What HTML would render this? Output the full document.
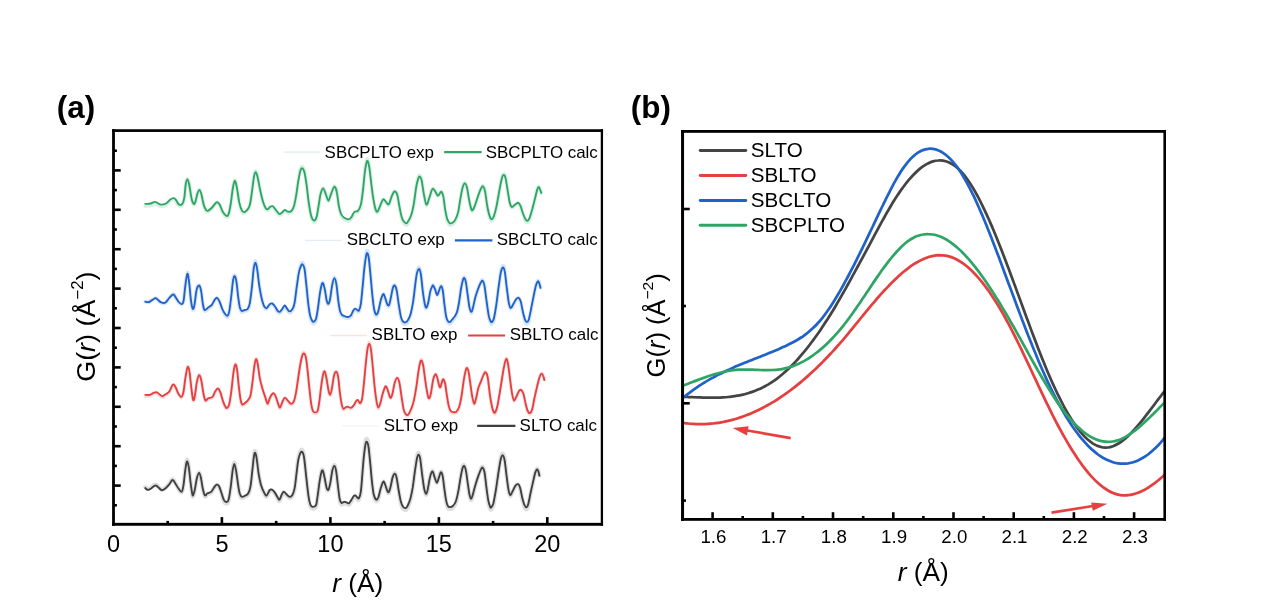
<!DOCTYPE html>
<html lang="en"><head><meta charset="utf-8"><title>PDF G(r) figure</title>
<style>
html,body{margin:0;padding:0;background:#fff;}
body{width:1269px;height:604px;overflow:hidden;}
svg{display:block;will-change:transform;}
text{font-family:"Liberation Sans",Arial,Helvetica,sans-serif;fill:#000;}
.calc{fill:none;stroke-linejoin:round;stroke-linecap:round;}
.exp{fill:none;stroke-linejoin:round;stroke-linecap:round;}
.tk{stroke:#000;}
</style></head><body>
<svg width="1269" height="604" viewBox="0 0 1269 604">
<rect width="1269" height="604" fill="#fff"/>
<g id="panel-a">
<text transform="translate(56.80,117.60)" font-size="31.4" font-weight="bold">(a)</text>
<path class="exp" d="M145.3 205.6C146.2 205.5 149.0 205.5 150.6 205.1C152.2 204.6 153.5 203.2 154.8 203.1C156.1 203.1 157.2 204.4 158.3 204.8C159.4 205.3 159.8 205.9 161.1 205.9C162.4 205.9 164.5 205.5 166.0 204.6C167.5 203.6 169.0 201.2 170.3 200.2C171.6 199.2 172.9 198.6 173.8 198.6C174.7 198.7 175.1 199.4 175.9 200.5C176.7 201.5 177.6 204.2 178.7 205.0C179.8 205.7 181.3 206.0 182.2 204.9C183.1 203.7 183.7 201.5 184.3 198.0C184.9 194.5 185.2 187.1 185.7 183.9C186.2 180.6 186.8 178.3 187.4 178.3C188.0 178.3 188.5 180.5 189.2 183.8C189.9 187.0 190.7 194.4 191.4 197.8C192.1 201.2 192.8 203.3 193.5 204.0C194.2 204.7 194.7 203.9 195.3 202.1C196.0 200.3 196.8 195.4 197.4 193.2C198.1 191.1 198.6 189.2 199.2 189.2C199.8 189.2 200.4 190.4 201.2 193.2C202.0 196.0 203.0 202.9 204.0 206.0C205.0 209.0 206.0 211.1 207.3 211.5C208.6 211.8 210.5 209.5 211.8 208.2C213.1 206.9 214.4 204.7 215.3 203.7C216.2 202.7 216.4 202.1 217.1 202.2C217.8 202.4 218.5 202.7 219.5 204.5C220.5 206.2 221.7 210.6 222.9 212.6C224.1 214.7 225.6 216.4 226.5 216.8C227.4 217.1 227.9 217.0 228.6 214.9C229.3 212.7 230.1 208.3 230.8 203.7C231.5 199.1 232.2 191.3 232.9 187.3C233.6 183.3 234.1 180.1 234.7 179.9C235.3 179.6 235.9 182.1 236.7 185.8C237.4 189.5 238.4 198.1 239.2 202.2C240.0 206.3 240.8 208.6 241.6 210.4C242.4 212.2 242.9 212.9 243.8 212.9C244.7 213.0 245.9 212.1 246.9 210.8C247.9 209.5 248.9 208.6 249.8 205.2C250.7 201.8 251.4 195.2 252.1 190.3C252.8 185.3 253.4 178.6 254.0 175.3C254.6 172.0 255.1 170.5 255.7 170.5C256.3 170.5 256.7 172.0 257.5 175.3C258.3 178.6 259.4 185.8 260.3 190.3C261.2 194.8 262.2 199.1 263.1 202.2C264.0 205.4 265.1 207.7 265.9 208.9C266.7 210.2 267.3 209.9 268.0 209.7C268.7 209.4 269.2 207.9 270.0 207.4C270.8 206.9 271.8 206.1 272.8 206.7C273.9 207.3 275.2 209.8 276.3 211.1C277.4 212.5 278.5 214.6 279.6 214.9C280.7 215.1 281.8 213.4 282.7 212.6C283.6 211.9 284.0 210.5 284.8 210.4C285.6 210.4 286.6 212.1 287.6 212.3C288.7 212.6 290.1 212.8 291.1 211.9C292.2 211.0 293.1 209.3 293.9 206.7C294.7 204.1 295.3 200.4 296.0 196.2C296.7 192.0 297.4 185.8 298.1 181.4C298.8 176.9 299.6 171.9 300.3 169.4C301.0 166.9 301.7 166.2 302.4 166.4C303.1 166.7 303.8 167.9 304.5 170.9C305.2 173.9 305.9 179.1 306.6 184.3C307.3 189.6 307.9 196.9 308.7 202.2C309.4 207.6 310.2 213.1 311.1 216.3C312.0 219.6 313.0 221.3 313.9 221.6C314.8 222.0 315.6 221.1 316.4 218.6C317.2 216.1 317.8 210.9 318.5 206.7C319.2 202.5 319.9 196.4 320.7 193.2C321.5 190.1 322.4 187.6 323.2 187.6C324.0 187.6 324.7 191.0 325.6 193.2C326.5 195.4 327.5 200.8 328.4 200.8C329.3 200.8 330.2 195.7 331.2 193.2C332.2 190.7 333.5 186.1 334.4 185.8C335.3 185.6 336.1 188.3 336.8 191.7C337.6 195.2 338.2 202.8 338.9 206.7C339.6 210.5 340.3 212.9 341.1 214.9C341.9 216.8 342.6 217.6 343.9 218.6C345.2 219.5 347.5 220.7 348.8 220.6C350.1 220.5 350.7 219.1 351.6 217.8C352.5 216.5 353.3 213.7 354.4 212.6C355.4 211.6 356.8 212.7 357.9 211.5C359.0 210.2 360.0 208.7 360.8 205.2C361.6 201.7 362.2 196.2 362.9 190.3C363.6 184.3 364.3 174.6 365.0 169.4C365.7 164.1 366.4 159.4 367.1 158.7C367.8 157.9 368.5 160.9 369.2 164.9C369.9 169.0 370.6 177.1 371.3 182.8C372.0 188.5 372.7 194.7 373.4 199.2C374.1 203.6 374.8 207.5 375.5 209.7C376.2 211.9 376.8 213.1 377.6 212.3C378.4 211.6 379.6 207.4 380.5 205.2C381.4 203.0 382.4 199.7 383.3 199.2C384.2 198.7 385.2 201.4 386.1 202.2C387.0 203.1 388.0 205.5 388.9 204.5C389.8 203.5 390.8 198.4 391.7 196.2C392.6 194.0 393.6 191.3 394.5 191.0C395.4 190.8 396.5 192.1 397.3 194.7C398.1 197.3 398.6 202.5 399.4 206.7C400.2 210.9 401.2 217.1 402.3 220.0C403.4 223.0 404.9 224.1 405.8 224.6C406.7 225.1 406.9 224.6 407.8 223.1C408.7 221.6 410.2 219.1 411.3 215.6C412.4 212.1 413.3 207.2 414.1 202.2C414.9 197.3 415.6 190.1 416.3 185.8C417.0 181.6 417.8 178.6 418.4 176.8C419.0 175.1 419.3 174.9 419.8 175.3C420.3 175.7 420.9 175.9 421.6 179.1C422.3 182.4 423.2 190.4 424.0 194.7C424.8 199.0 425.6 204.1 426.4 204.9C427.2 205.6 428.0 201.6 428.9 199.2C429.8 196.7 430.8 192.1 431.5 190.3C432.2 188.4 432.5 187.9 433.1 188.0C433.7 188.2 434.5 189.8 435.3 191.0C436.1 192.2 437.0 195.2 437.8 195.5C438.6 195.7 439.6 193.2 440.2 192.5C440.8 191.8 441.1 190.8 441.6 191.4C442.1 192.0 442.7 193.2 443.3 196.2C443.9 199.2 444.5 205.7 445.1 209.7C445.8 213.6 446.4 217.6 447.2 220.0C448.0 222.5 448.8 224.0 449.7 224.6C450.6 225.2 451.8 224.6 452.8 223.9C453.8 223.1 454.8 221.9 455.7 220.0C456.6 218.2 457.4 216.1 458.2 212.6C459.0 209.1 459.6 203.5 460.3 199.2C461.1 194.8 461.9 189.4 462.7 186.6C463.4 183.7 464.1 182.3 464.8 182.3C465.5 182.3 466.2 183.7 466.9 186.6C467.6 189.4 468.3 195.4 469.0 199.2C469.7 202.9 470.5 207.0 471.1 208.9C471.7 210.9 471.9 211.2 472.5 210.8C473.1 210.5 473.8 208.9 474.6 206.7C475.4 204.5 476.6 200.5 477.5 197.7C478.4 194.8 479.4 191.6 480.3 189.5C481.2 187.5 481.9 185.3 482.7 185.4C483.5 185.5 484.1 186.7 484.9 190.3C485.7 193.8 486.6 202.3 487.3 206.7C488.1 211.0 488.7 214.1 489.4 216.3C490.1 218.6 490.8 220.2 491.5 220.4C492.2 220.5 493.1 219.4 493.9 217.1C494.7 214.8 495.6 211.2 496.5 206.7C497.4 202.2 498.4 195.4 499.3 190.3C500.2 185.2 501.3 178.9 502.1 176.1C502.9 173.3 503.3 173.4 503.9 173.5C504.5 173.6 505.0 174.0 505.6 176.8C506.2 179.6 507.0 185.9 507.7 190.3C508.4 194.6 509.1 200.1 509.8 203.0C510.5 205.8 510.9 207.2 511.9 207.4C512.9 207.7 514.4 205.2 515.5 204.5C516.6 203.7 517.5 202.7 518.3 203.0C519.1 203.2 519.6 204.0 520.4 206.0C521.2 207.9 522.3 212.4 523.2 214.9C524.1 217.3 525.0 219.6 525.7 220.8C526.4 222.0 526.8 222.3 527.4 222.1C528.0 221.8 528.7 221.4 529.5 219.3C530.3 217.2 531.3 213.3 532.3 209.7C533.2 206.1 534.4 201.2 535.2 197.7C536.0 194.2 536.7 190.7 537.3 188.8C537.9 186.9 538.2 186.1 538.7 186.1C539.2 186.1 539.7 187.7 540.1 188.8C540.5 189.8 541.0 191.9 541.2 192.5" stroke="#d6f0e3" stroke-width="3.8" transform="translate(0,0.3)"/>
<path class="calc" d="M145.3 203.9C146.2 203.8 149.0 203.8 150.6 203.5C152.2 203.2 153.5 201.8 154.8 201.8C156.1 201.8 157.2 203.0 158.3 203.5C159.4 204.0 159.8 204.6 161.1 204.6C162.4 204.6 164.5 204.3 166.0 203.5C167.5 202.7 169.0 200.4 170.3 199.5C171.6 198.6 172.9 198.0 173.8 198.1C174.7 198.2 175.1 198.9 175.9 199.9C176.7 200.9 177.6 203.5 178.7 204.2C179.8 204.9 181.3 205.3 182.2 204.2C183.1 203.1 183.7 201.1 184.3 197.8C184.9 194.5 185.2 187.6 185.7 184.5C186.2 181.4 186.8 179.3 187.4 179.3C188.0 179.3 188.5 181.4 189.2 184.5C189.9 187.6 190.7 194.6 191.4 197.8C192.1 201.0 192.8 203.0 193.5 203.7C194.2 204.4 194.7 203.7 195.3 202.0C196.0 200.3 196.8 195.6 197.4 193.6C198.1 191.6 198.6 189.8 199.2 189.8C199.8 189.8 200.4 191.0 201.2 193.6C202.0 196.2 203.0 202.7 204.0 205.6C205.0 208.5 206.0 210.5 207.3 210.8C208.6 211.2 210.5 208.9 211.8 207.7C213.1 206.5 214.4 204.4 215.3 203.5C216.2 202.6 216.4 202.0 217.1 202.1C217.8 202.2 218.5 202.6 219.5 204.2C220.5 205.8 221.7 210.0 222.9 211.9C224.1 213.8 225.6 215.5 226.5 215.8C227.4 216.2 227.9 216.1 228.6 214.0C229.3 211.9 230.1 207.8 230.8 203.5C231.5 199.2 232.2 191.8 232.9 188.0C233.6 184.2 234.1 181.2 234.7 181.0C235.3 180.8 235.9 183.1 236.7 186.6C237.4 190.1 238.4 198.2 239.2 202.1C240.0 206.0 240.8 208.1 241.6 209.8C242.4 211.5 242.9 212.1 243.8 212.2C244.7 212.3 245.9 211.4 246.9 210.2C247.9 209.0 248.9 208.1 249.8 204.9C250.7 201.7 251.4 195.5 252.1 190.8C252.8 186.1 253.4 179.8 254.0 176.7C254.6 173.6 255.1 172.2 255.7 172.2C256.3 172.2 256.7 173.6 257.5 176.7C258.3 179.8 259.4 186.6 260.3 190.8C261.2 195.0 262.2 199.2 263.1 202.1C264.0 205.0 265.1 207.2 265.9 208.4C266.7 209.6 267.3 209.3 268.0 209.1C268.7 208.9 269.2 207.5 270.0 207.0C270.8 206.5 271.8 205.7 272.8 206.3C273.9 206.9 275.2 209.2 276.3 210.5C277.4 211.8 278.5 213.8 279.6 214.0C280.7 214.2 281.8 212.6 282.7 211.9C283.6 211.2 284.0 209.9 284.8 209.8C285.6 209.8 286.6 211.4 287.6 211.6C288.7 211.8 290.1 212.1 291.1 211.2C292.2 210.3 293.1 208.8 293.9 206.3C294.7 203.8 295.3 200.4 296.0 196.4C296.7 192.4 297.4 186.6 298.1 182.4C298.8 178.2 299.6 173.4 300.3 171.1C301.0 168.8 301.7 168.1 302.4 168.3C303.1 168.5 303.8 169.7 304.5 172.5C305.2 175.3 305.9 180.3 306.6 185.2C307.3 190.1 307.9 197.1 308.7 202.1C309.4 207.1 310.2 212.3 311.1 215.4C312.0 218.5 313.0 220.1 313.9 220.4C314.8 220.8 315.6 219.8 316.4 217.5C317.2 215.2 317.8 210.3 318.5 206.3C319.2 202.3 319.9 196.6 320.7 193.6C321.5 190.6 322.4 188.3 323.2 188.3C324.0 188.3 324.7 191.5 325.6 193.6C326.5 195.7 327.5 200.7 328.4 200.7C329.3 200.7 330.2 195.9 331.2 193.6C332.2 191.2 333.5 186.8 334.4 186.6C335.3 186.4 336.1 188.9 336.8 192.2C337.6 195.5 338.2 202.7 338.9 206.3C339.6 209.9 340.3 212.1 341.1 214.0C341.9 215.9 342.6 216.6 343.9 217.5C345.2 218.4 347.5 219.5 348.8 219.4C350.1 219.3 350.7 218.1 351.6 216.8C352.5 215.6 353.3 212.9 354.4 211.9C355.4 210.9 356.8 212.0 357.9 210.8C359.0 209.6 360.0 208.2 360.8 204.9C361.6 201.6 362.2 196.4 362.9 190.8C363.6 185.2 364.3 176.1 365.0 171.1C365.7 166.1 366.4 161.7 367.1 161.0C367.8 160.3 368.5 163.1 369.2 166.9C369.9 170.7 370.6 178.4 371.3 183.8C372.0 189.2 372.7 195.0 373.4 199.2C374.1 203.4 374.8 207.0 375.5 209.1C376.2 211.2 376.8 212.3 377.6 211.6C378.4 210.9 379.6 207.0 380.5 204.9C381.4 202.8 382.4 199.7 383.3 199.2C384.2 198.7 385.2 201.3 386.1 202.1C387.0 202.9 388.0 205.1 388.9 204.2C389.8 203.2 390.8 198.5 391.7 196.4C392.6 194.3 393.6 191.7 394.5 191.5C395.4 191.3 396.5 192.5 397.3 195.0C398.1 197.5 398.6 202.3 399.4 206.3C400.2 210.3 401.2 216.1 402.3 218.9C403.4 221.7 404.9 222.7 405.8 223.2C406.7 223.7 406.9 223.2 407.8 221.8C408.7 220.4 410.2 218.0 411.3 214.7C412.4 211.4 413.3 206.8 414.1 202.1C414.9 197.4 415.6 190.6 416.3 186.6C417.0 182.6 417.8 179.8 418.4 178.1C419.0 176.4 419.3 176.3 419.8 176.7C420.3 177.1 420.9 177.2 421.6 180.3C422.3 183.4 423.2 190.9 424.0 195.0C424.8 199.1 425.6 203.9 426.4 204.6C427.2 205.3 428.0 201.5 428.9 199.2C429.8 196.9 430.8 192.6 431.5 190.8C432.2 189.1 432.5 188.6 433.1 188.7C433.7 188.8 434.5 190.3 435.3 191.5C436.1 192.7 437.0 195.5 437.8 195.7C438.6 195.9 439.6 193.5 440.2 192.9C440.8 192.3 441.1 191.3 441.6 191.9C442.1 192.5 442.7 193.5 443.3 196.4C443.9 199.3 444.5 205.3 445.1 209.1C445.8 212.8 446.4 216.6 447.2 218.9C448.0 221.2 448.8 222.6 449.7 223.2C450.6 223.8 451.8 223.2 452.8 222.5C453.8 221.8 454.8 220.7 455.7 218.9C456.6 217.1 457.4 215.2 458.2 211.9C459.0 208.6 459.6 203.3 460.3 199.2C461.1 195.1 461.9 190.0 462.7 187.3C463.4 184.7 464.1 183.3 464.8 183.3C465.5 183.3 466.2 184.7 466.9 187.3C467.6 190.0 468.3 195.7 469.0 199.2C469.7 202.7 470.5 206.6 471.1 208.4C471.7 210.2 471.9 210.5 472.5 210.2C473.1 209.8 473.8 208.4 474.6 206.3C475.4 204.2 476.6 200.5 477.5 197.8C478.4 195.1 479.4 192.0 480.3 190.1C481.2 188.2 481.9 186.1 482.7 186.2C483.5 186.3 484.1 187.5 484.9 190.8C485.7 194.2 486.6 202.2 487.3 206.3C488.1 210.4 488.7 213.2 489.4 215.4C490.1 217.6 490.8 219.1 491.5 219.2C492.2 219.3 493.1 218.2 493.9 216.1C494.7 213.9 495.6 210.5 496.5 206.3C497.4 202.1 498.4 195.6 499.3 190.8C500.2 186.0 501.3 180.0 502.1 177.4C502.9 174.8 503.3 174.9 503.9 175.0C504.5 175.1 505.0 175.5 505.6 178.1C506.2 180.7 507.0 186.7 507.7 190.8C508.4 194.9 509.1 200.1 509.8 202.8C510.5 205.5 510.9 206.8 511.9 207.0C512.9 207.2 514.4 204.9 515.5 204.2C516.6 203.5 517.5 202.6 518.3 202.8C519.1 203.0 519.6 203.7 520.4 205.6C521.2 207.5 522.3 211.7 523.2 214.0C524.1 216.3 525.0 218.5 525.7 219.6C526.4 220.7 526.8 221.0 527.4 220.8C528.0 220.6 528.7 220.1 529.5 218.2C530.3 216.2 531.3 212.5 532.3 209.1C533.2 205.7 534.4 201.1 535.2 197.8C536.0 194.5 536.7 191.2 537.3 189.4C537.9 187.6 538.2 186.9 538.7 186.9C539.2 186.9 539.7 188.4 540.1 189.4C540.5 190.4 541.0 192.3 541.2 192.9" stroke="#2fa565" stroke-width="1.85"/>
<path class="exp" d="M145.3 301.4C145.9 301.5 147.8 302.2 149.1 301.8C150.4 301.4 152.3 299.5 153.4 298.9C154.5 298.2 155.0 297.6 155.8 297.8C156.6 298.0 157.4 299.2 158.3 300.0C159.2 300.7 159.9 301.9 161.1 302.3C162.3 302.8 164.0 303.4 165.3 302.7C166.6 302.0 167.7 299.6 168.8 298.3C169.9 296.9 171.3 295.3 172.1 294.6C172.9 293.9 173.2 293.6 173.8 294.1C174.4 294.6 175.1 296.3 175.9 297.6C176.7 298.9 177.7 301.0 178.7 302.1C179.7 303.2 181.1 304.6 181.9 304.3C182.7 304.1 183.0 303.9 183.6 300.7C184.2 297.4 184.7 289.7 185.3 285.0C185.9 280.3 186.8 272.8 187.4 272.3C188.1 271.8 188.6 277.4 189.2 282.1C189.8 286.7 190.3 295.4 190.9 300.0C191.5 304.6 192.2 308.9 192.8 309.6C193.4 310.4 194.0 307.8 194.6 304.5C195.2 301.1 195.8 292.8 196.6 289.5C197.3 286.2 198.3 284.5 199.1 284.8C199.9 285.0 200.6 287.7 201.2 291.0C201.8 294.3 202.3 301.2 202.9 304.5C203.5 307.8 203.8 310.1 204.7 310.7C205.6 311.3 207.0 309.1 208.2 308.2C209.4 307.3 210.7 306.6 211.8 305.2C212.9 303.9 213.7 301.3 214.6 300.0C215.5 298.8 216.3 297.5 217.1 297.8C217.9 298.0 218.6 299.5 219.5 301.5C220.4 303.5 221.4 307.4 222.3 309.7C223.2 311.9 224.2 313.7 225.1 314.9C226.0 316.1 226.8 317.4 227.5 316.9C228.2 316.4 228.6 315.7 229.3 311.9C230.0 308.1 230.9 299.4 231.5 294.0C232.1 288.5 232.6 282.3 233.1 279.1C233.6 276.0 234.1 274.7 234.7 274.9C235.2 275.1 235.8 276.9 236.4 280.6C237.0 284.3 237.6 292.5 238.2 297.1C238.8 301.6 239.3 305.7 239.9 308.2C240.5 310.6 240.8 311.3 241.6 311.7C242.4 312.1 243.8 311.1 244.8 310.7C245.8 310.4 246.8 310.8 247.6 309.7C248.4 308.5 249.1 307.6 249.8 303.7C250.5 299.9 251.2 292.7 251.9 286.6C252.6 280.5 253.1 271.5 253.7 267.2C254.3 262.8 254.8 260.5 255.4 260.5C256.0 260.5 256.5 263.1 257.1 267.2C257.8 271.3 258.5 279.8 259.3 285.1C260.1 290.3 260.9 295.1 261.7 298.5C262.4 302.0 263.1 304.2 263.8 306.0C264.6 307.7 265.4 308.9 266.2 308.9C267.0 308.9 268.1 306.7 268.7 306.0C269.3 305.2 269.4 304.8 270.0 304.5C270.6 304.1 271.3 303.4 272.1 303.7C272.9 304.1 274.0 305.4 274.9 306.7C275.8 308.0 276.9 310.7 277.7 311.7C278.5 312.7 279.0 313.1 279.8 312.6C280.6 312.2 281.9 310.0 282.7 308.9C283.5 307.8 284.1 306.0 284.8 306.0C285.5 306.0 286.1 307.9 286.9 308.9C287.7 310.0 288.5 312.1 289.4 312.2C290.3 312.3 291.6 311.2 292.5 309.7C293.4 308.1 293.9 306.8 294.6 303.0C295.3 299.1 296.0 291.8 296.7 286.6C297.4 281.3 298.1 275.4 298.8 271.6C299.5 267.8 300.4 265.4 301.0 263.9C301.6 262.3 302.0 261.8 302.6 262.4C303.2 262.9 303.9 263.6 304.5 267.2C305.1 270.7 305.7 277.9 306.3 283.6C306.9 289.3 307.4 296.0 308.0 301.5C308.6 307.0 309.4 313.0 310.1 316.5C310.8 319.9 311.6 321.0 312.2 322.1C312.8 323.2 313.2 323.6 313.9 323.1C314.6 322.7 315.5 322.0 316.2 319.4C316.9 316.8 317.5 311.9 318.1 307.4C318.7 303.0 319.4 296.3 320.0 292.5C320.6 288.6 321.1 286.0 321.6 284.3C322.1 282.7 322.4 281.6 323.0 282.4C323.6 283.3 324.3 286.5 324.9 289.5C325.5 292.6 326.1 298.3 326.7 300.8C327.3 303.2 327.8 304.5 328.4 304.2C329.0 303.8 329.6 301.8 330.2 298.5C330.8 295.2 331.5 287.9 332.2 284.3C332.9 280.7 333.7 277.0 334.4 276.9C335.1 276.8 335.8 279.7 336.4 283.6C337.0 287.4 337.6 295.4 338.2 300.0C338.8 304.6 339.3 308.6 339.9 311.2C340.5 313.7 341.0 314.6 341.8 315.6C342.6 316.6 343.6 316.8 344.6 317.2C345.7 317.6 347.1 318.3 348.1 318.1C349.2 318.0 350.0 317.6 350.9 316.5C351.8 315.3 352.6 312.4 353.3 311.2C354.0 310.0 354.5 309.3 355.1 309.2C355.8 309.2 356.6 310.4 357.2 310.7C357.8 311.0 358.3 312.2 358.9 311.2C359.5 310.1 360.2 308.6 360.8 304.5C361.4 300.4 362.0 292.8 362.6 286.6C363.2 280.3 363.7 272.6 364.3 267.2C364.9 261.7 365.5 256.6 366.0 253.8C366.5 251.0 366.9 250.0 367.4 250.5C367.9 251.0 368.4 252.7 368.9 256.8C369.4 260.8 370.0 268.2 370.6 274.7C371.2 281.2 371.8 289.7 372.4 295.6C373.0 301.4 373.5 306.3 374.1 309.7C374.7 313.0 375.5 315.2 376.2 315.6C376.9 316.0 377.6 314.2 378.3 311.9C379.0 309.5 379.8 304.2 380.5 301.5C381.2 298.8 381.8 296.8 382.3 295.6C382.8 294.3 383.2 293.5 383.7 294.0C384.2 294.5 384.8 296.8 385.4 298.5C386.0 300.3 386.6 303.3 387.2 304.5C387.8 305.7 388.3 306.6 388.9 305.6C389.5 304.7 390.1 301.5 390.7 298.5C391.3 295.6 392.1 290.3 392.7 288.0C393.3 285.7 393.9 284.5 394.5 284.8C395.1 285.0 395.9 286.2 396.6 289.5C397.3 292.8 398.0 299.7 398.7 304.5C399.4 309.2 400.2 314.8 400.9 317.9C401.6 321.0 402.2 322.1 403.0 323.1C403.8 324.1 404.6 324.1 405.4 323.9C406.2 323.6 406.9 323.1 407.8 321.6C408.7 320.1 409.7 318.2 410.6 314.9C411.5 311.5 412.4 306.5 413.2 301.5C413.9 296.5 414.5 290.1 415.1 285.1C415.7 280.1 416.3 274.6 417.0 271.6C417.7 268.6 418.5 266.9 419.1 267.2C419.8 267.4 420.2 268.9 420.9 273.1C421.5 277.3 422.3 287.1 423.0 292.5C423.7 297.8 424.4 302.6 425.0 305.2C425.6 307.8 425.9 308.6 426.4 308.2C426.9 307.8 427.5 305.9 428.2 303.0C428.9 300.1 429.6 293.9 430.3 291.0C431.0 288.1 431.9 286.4 432.4 285.4C432.9 284.4 432.9 284.4 433.4 285.1C433.9 285.8 434.7 287.9 435.3 289.5C435.9 291.2 436.5 294.6 437.1 294.8C437.7 295.1 438.2 292.6 438.8 291.0C439.4 289.4 440.2 285.6 440.9 285.4C441.5 285.1 442.1 286.3 442.7 289.5C443.3 292.7 443.8 299.7 444.4 304.5C445.0 309.2 445.6 315.0 446.2 317.9C446.8 320.9 447.3 321.5 447.9 322.4C448.5 323.3 449.0 323.8 449.7 323.6C450.4 323.3 451.2 322.0 452.1 320.9C453.0 319.8 454.1 318.7 455.0 317.2C455.9 315.7 456.6 314.5 457.3 311.9C458.0 309.3 458.5 305.7 459.2 301.5C459.9 297.3 460.6 290.4 461.3 286.6C462.0 282.7 462.6 280.0 463.1 278.4C463.6 276.8 463.9 276.4 464.4 276.9C464.9 277.4 465.4 278.5 465.9 281.4C466.4 284.2 467.0 289.6 467.6 294.0C468.2 298.3 468.8 304.3 469.4 307.4C470.0 310.6 470.5 312.4 471.1 312.6C471.7 312.9 472.1 311.5 472.8 308.9C473.5 306.3 474.5 300.5 475.4 297.1C476.3 293.6 477.3 290.7 478.2 288.0C479.1 285.4 480.2 282.7 481.0 281.4C481.8 280.0 482.1 279.3 482.7 279.9C483.3 280.5 483.9 281.5 484.5 285.1C485.1 288.7 485.9 296.3 486.6 301.5C487.3 306.7 488.1 313.0 488.7 316.5C489.3 319.9 489.9 321.2 490.5 322.4C491.1 323.6 491.4 324.0 492.0 323.6C492.6 323.1 493.2 322.4 493.9 319.4C494.6 316.5 495.4 311.4 496.2 306.0C497.0 300.5 497.8 292.5 498.6 286.6C499.4 280.6 500.2 273.6 501.0 270.1C501.8 266.6 502.5 265.6 503.1 265.7C503.8 265.8 504.3 267.4 504.9 270.9C505.5 274.4 506.0 281.2 506.7 286.6C507.4 291.9 508.1 299.3 508.8 303.0C509.5 306.7 510.1 308.4 510.8 308.6C511.6 308.9 512.4 306.0 513.3 304.5C514.2 302.9 515.3 300.4 516.2 299.3C517.1 298.2 518.0 297.4 518.7 297.8C519.5 298.2 520.0 299.0 520.7 301.5C521.4 304.0 522.2 309.4 522.9 312.6C523.6 315.9 524.3 319.1 525.0 320.9C525.7 322.7 526.3 323.6 526.9 323.6C527.5 323.6 528.1 323.3 528.8 320.9C529.5 318.5 530.4 313.1 531.2 308.9C532.0 304.7 532.9 299.7 533.7 295.6C534.5 291.5 535.4 286.9 536.1 284.3C536.8 281.8 537.5 280.6 538.0 280.3C538.5 280.1 539.0 281.7 539.4 282.9C539.8 284.0 540.3 286.6 540.5 287.3" stroke="#d6e4f8" stroke-width="3.8" transform="translate(0,0.3)"/>
<path class="calc" d="M145.3 301.7C145.9 301.8 147.8 302.4 149.1 302.0C150.4 301.6 152.3 299.8 153.4 299.2C154.5 298.6 155.0 298.0 155.8 298.2C156.6 298.4 157.4 299.5 158.3 300.2C159.2 300.9 159.9 302.0 161.1 302.4C162.3 302.8 164.0 303.3 165.3 302.7C166.6 302.1 167.7 299.8 168.8 298.5C169.9 297.2 171.3 295.7 172.1 295.0C172.9 294.3 173.2 294.0 173.8 294.5C174.4 295.0 175.1 296.6 175.9 297.8C176.7 299.1 177.7 300.9 178.7 302.0C179.7 303.1 181.1 304.3 181.9 304.1C182.7 303.9 183.0 303.7 183.6 300.6C184.2 297.6 184.7 290.3 185.3 285.8C185.9 281.3 186.8 274.3 187.4 273.8C188.1 273.3 188.6 278.6 189.2 283.0C189.8 287.4 190.3 295.6 190.9 299.9C191.5 304.2 192.2 308.3 192.8 309.0C193.4 309.7 194.0 307.3 194.6 304.1C195.2 300.9 195.8 293.1 196.6 290.0C197.3 286.9 198.3 285.3 199.1 285.5C199.9 285.7 200.6 288.3 201.2 291.4C201.8 294.5 202.3 301.0 202.9 304.1C203.5 307.2 203.8 309.4 204.7 310.0C205.6 310.6 207.0 308.5 208.2 307.6C209.4 306.7 210.7 306.1 211.8 304.8C212.9 303.5 213.7 301.1 214.6 299.9C215.5 298.7 216.3 297.6 217.1 297.8C217.9 298.0 218.6 299.4 219.5 301.3C220.4 303.2 221.4 306.9 222.3 309.0C223.2 311.1 224.2 312.8 225.1 313.9C226.0 315.0 226.8 316.3 227.5 315.8C228.2 315.3 228.6 314.7 229.3 311.1C230.0 307.5 230.9 299.4 231.5 294.2C232.1 289.0 232.6 283.2 233.1 280.2C233.6 277.2 234.1 276.0 234.7 276.2C235.2 276.4 235.8 278.1 236.4 281.6C237.0 285.1 237.6 292.8 238.2 297.1C238.8 301.4 239.3 305.3 239.9 307.6C240.5 309.9 240.8 310.5 241.6 310.9C242.4 311.3 243.8 310.3 244.8 310.0C245.8 309.7 246.8 310.1 247.6 309.0C248.4 307.9 249.1 307.0 249.8 303.4C250.5 299.8 251.2 292.9 251.9 287.2C252.6 281.4 253.1 273.0 253.7 268.9C254.3 264.8 254.8 262.6 255.4 262.6C256.0 262.6 256.5 265.0 257.1 268.9C257.8 272.8 258.5 280.9 259.3 285.8C260.1 290.7 260.9 295.2 261.7 298.5C262.4 301.8 263.1 303.9 263.8 305.5C264.6 307.1 265.4 308.3 266.2 308.3C267.0 308.3 268.1 306.2 268.7 305.5C269.3 304.8 269.4 304.5 270.0 304.1C270.6 303.8 271.3 303.0 272.1 303.4C272.9 303.8 274.0 304.9 274.9 306.2C275.8 307.4 276.9 310.0 277.7 310.9C278.5 311.8 279.0 312.2 279.8 311.8C280.6 311.4 281.9 309.4 282.7 308.3C283.5 307.2 284.1 305.5 284.8 305.5C285.5 305.5 286.1 307.3 286.9 308.3C287.7 309.3 288.5 311.3 289.4 311.4C290.3 311.5 291.6 310.4 292.5 309.0C293.4 307.6 293.9 306.3 294.6 302.7C295.3 299.1 296.0 292.1 296.7 287.2C297.4 282.3 298.1 276.7 298.8 273.1C299.5 269.5 300.4 267.2 301.0 265.8C301.6 264.4 302.0 263.9 302.6 264.4C303.2 264.9 303.9 265.6 304.5 268.9C305.1 272.2 305.7 279.0 306.3 284.4C306.9 289.8 307.4 296.1 308.0 301.3C308.6 306.5 309.4 312.2 310.1 315.4C310.8 318.6 311.6 319.6 312.2 320.7C312.8 321.8 313.2 322.1 313.9 321.7C314.6 321.3 315.5 320.7 316.2 318.2C316.9 315.7 317.5 311.1 318.1 306.9C318.7 302.7 319.4 296.4 320.0 292.8C320.6 289.2 321.1 286.7 321.6 285.1C322.1 283.5 322.4 282.5 323.0 283.3C323.6 284.1 324.3 287.1 324.9 290.0C325.5 292.9 326.1 298.3 326.7 300.6C327.3 302.9 327.8 304.2 328.4 303.8C329.0 303.4 329.6 301.6 330.2 298.5C330.8 295.4 331.5 288.5 332.2 285.1C332.9 281.7 333.7 278.2 334.4 278.1C335.1 278.0 335.8 280.8 336.4 284.4C337.0 288.0 337.6 295.6 338.2 299.9C338.8 304.2 339.3 307.9 339.9 310.4C340.5 312.8 341.0 313.7 341.8 314.6C342.6 315.6 343.6 315.7 344.6 316.1C345.7 316.5 347.1 317.1 348.1 317.0C349.2 316.9 350.0 316.5 350.9 315.4C351.8 314.3 352.6 311.5 353.3 310.4C354.0 309.3 354.5 308.7 355.1 308.6C355.8 308.5 356.6 309.7 357.2 310.0C357.8 310.3 358.3 311.4 358.9 310.4C359.5 309.4 360.2 308.0 360.8 304.1C361.4 300.2 362.0 293.1 362.6 287.2C363.2 281.3 363.7 274.0 364.3 268.9C364.9 263.8 365.5 258.9 366.0 256.3C366.5 253.7 366.9 252.7 367.4 253.2C367.9 253.7 368.4 255.3 368.9 259.1C369.4 262.9 370.0 269.9 370.6 276.0C371.2 282.1 371.8 290.2 372.4 295.7C373.0 301.2 373.5 305.9 374.1 309.0C374.7 312.1 375.5 314.2 376.2 314.6C376.9 315.0 377.6 313.3 378.3 311.1C379.0 308.9 379.8 303.9 380.5 301.3C381.2 298.7 381.8 296.9 382.3 295.7C382.8 294.5 383.2 293.7 383.7 294.2C384.2 294.7 384.8 296.9 385.4 298.5C386.0 300.1 386.6 303.0 387.2 304.1C387.8 305.2 388.3 306.1 388.9 305.2C389.5 304.3 390.1 301.3 390.7 298.5C391.3 295.7 392.1 290.8 392.7 288.6C393.3 286.4 393.9 285.3 394.5 285.5C395.1 285.7 395.9 286.9 396.6 290.0C397.3 293.1 398.0 299.6 398.7 304.1C399.4 308.6 400.2 313.9 400.9 316.8C401.6 319.7 402.2 320.8 403.0 321.7C403.8 322.6 404.6 322.6 405.4 322.4C406.2 322.2 406.9 321.7 407.8 320.3C408.7 318.9 409.7 317.1 410.6 313.9C411.5 310.7 412.4 306.0 413.2 301.3C413.9 296.6 414.5 290.5 415.1 285.8C415.7 281.1 416.3 275.9 417.0 273.1C417.7 270.3 418.5 268.7 419.1 268.9C419.8 269.1 420.2 270.5 420.9 274.5C421.5 278.5 422.3 287.8 423.0 292.8C423.7 297.9 424.4 302.3 425.0 304.8C425.6 307.3 425.9 308.0 426.4 307.6C426.9 307.2 427.5 305.4 428.2 302.7C428.9 300.0 429.6 294.2 430.3 291.4C431.0 288.6 431.9 287.0 432.4 286.1C432.9 285.2 432.9 285.2 433.4 285.8C433.9 286.4 434.7 288.5 435.3 290.0C435.9 291.5 436.5 294.8 437.1 295.0C437.7 295.2 438.2 292.9 438.8 291.4C439.4 289.9 440.2 286.3 440.9 286.1C441.5 285.9 442.1 287.0 442.7 290.0C443.3 293.0 443.8 299.6 444.4 304.1C445.0 308.6 445.6 314.0 446.2 316.8C446.8 319.6 447.3 320.1 447.9 321.0C448.5 321.9 449.0 322.3 449.7 322.1C450.4 321.9 451.2 320.6 452.1 319.6C453.0 318.6 454.1 317.5 455.0 316.1C455.9 314.7 456.6 313.6 457.3 311.1C458.0 308.6 458.5 305.3 459.2 301.3C459.9 297.3 460.6 290.8 461.3 287.2C462.0 283.6 462.6 281.0 463.1 279.5C463.6 278.0 463.9 277.6 464.4 278.1C464.9 278.6 465.4 279.6 465.9 282.3C466.4 285.0 467.0 290.1 467.6 294.2C468.2 298.3 468.8 304.0 469.4 306.9C470.0 309.8 470.5 311.6 471.1 311.8C471.7 312.0 472.1 310.8 472.8 308.3C473.5 305.9 474.5 300.4 475.4 297.1C476.3 293.8 477.3 291.1 478.2 288.6C479.1 286.1 480.2 283.6 481.0 282.3C481.8 281.0 482.1 280.3 482.7 280.9C483.3 281.5 483.9 282.4 484.5 285.8C485.1 289.2 485.9 296.4 486.6 301.3C487.3 306.2 488.1 312.1 488.7 315.4C489.3 318.7 489.9 319.9 490.5 321.0C491.1 322.1 491.4 322.6 492.0 322.1C492.6 321.6 493.2 321.0 493.9 318.2C494.6 315.4 495.4 310.7 496.2 305.5C497.0 300.3 497.8 292.8 498.6 287.2C499.4 281.6 500.2 275.0 501.0 271.7C501.8 268.4 502.5 267.4 503.1 267.5C503.8 267.6 504.3 269.1 504.9 272.4C505.5 275.7 506.0 282.1 506.7 287.2C507.4 292.2 508.1 299.2 508.8 302.7C509.5 306.2 510.1 307.8 510.8 308.0C511.6 308.2 512.4 305.6 513.3 304.1C514.2 302.6 515.3 300.2 516.2 299.2C517.1 298.1 518.0 297.4 518.7 297.8C519.5 298.2 520.0 299.0 520.7 301.3C521.4 303.6 522.2 308.8 522.9 311.8C523.6 314.9 524.3 317.9 525.0 319.6C525.7 321.3 526.3 322.1 526.9 322.1C527.5 322.1 528.1 321.9 528.8 319.6C529.5 317.3 530.4 312.3 531.2 308.3C532.0 304.3 532.9 299.6 533.7 295.7C534.5 291.8 535.4 287.5 536.1 285.1C536.8 282.7 537.5 281.5 538.0 281.3C538.5 281.1 539.0 282.6 539.4 283.7C539.8 284.8 540.3 287.2 540.5 287.9" stroke="#1f62c8" stroke-width="1.85"/>
<path class="exp" d="M145.3 396.0C146.1 396.0 148.3 396.3 149.8 395.9C151.3 395.5 152.9 394.1 154.1 393.7C155.3 393.2 156.0 393.0 156.9 393.3C157.8 393.6 158.8 394.7 159.7 395.3C160.6 396.0 161.4 397.2 162.5 397.1C163.6 397.1 164.8 395.7 166.0 394.9C167.2 394.0 168.5 393.4 169.5 391.9C170.5 390.4 171.4 387.2 172.1 386.0C172.8 384.8 173.2 384.4 173.8 384.7C174.4 385.1 175.2 386.6 175.9 388.1C176.7 389.7 177.4 392.3 178.3 393.9C179.2 395.5 180.6 397.9 181.5 397.5C182.4 397.1 183.0 394.8 183.6 391.6C184.2 388.4 184.7 382.3 185.3 378.4C185.9 374.5 186.6 370.1 187.1 368.1C187.6 366.1 187.9 365.6 188.3 366.3C188.7 367.1 189.2 368.8 189.7 372.5C190.2 376.2 190.8 383.9 191.4 388.5C192.0 393.2 192.6 399.3 193.2 400.5C193.8 401.7 194.3 399.0 194.9 395.8C195.5 392.5 196.3 384.6 197.0 381.1C197.7 377.6 198.4 374.8 199.1 374.5C199.8 374.3 200.5 376.6 201.2 379.6C201.9 382.7 202.6 389.3 203.3 392.8C204.0 396.4 204.6 399.9 205.4 400.8C206.2 401.8 207.0 399.3 208.2 398.7C209.4 398.1 211.3 398.4 212.5 397.2C213.7 396.0 214.4 392.8 215.3 391.4C216.2 389.9 217.2 388.2 218.1 388.5C219.0 388.7 219.7 390.7 220.5 392.8C221.3 395.0 222.2 399.1 223.0 401.6C223.8 404.0 224.8 406.3 225.5 407.5C226.2 408.7 226.6 409.1 227.2 408.6C227.8 408.1 228.6 407.6 229.3 404.5C230.0 401.4 230.8 395.5 231.5 389.9C232.2 384.3 232.9 375.3 233.6 370.9C234.2 366.5 234.8 363.8 235.4 363.5C236.0 363.3 236.5 365.5 237.1 369.4C237.7 373.4 238.3 381.9 238.9 387.0C239.5 392.1 240.0 397.1 240.6 400.1C241.2 403.2 241.6 404.7 242.4 405.2C243.2 405.7 244.5 403.9 245.5 403.0C246.5 402.2 247.5 401.3 248.3 400.1C249.1 398.9 249.8 398.9 250.5 395.8C251.2 392.6 251.9 386.2 252.6 381.1C253.2 376.0 253.8 368.9 254.4 365.1C255.0 361.2 255.5 358.3 256.1 358.0C256.7 357.7 257.2 360.1 257.8 363.5C258.4 366.9 259.1 374.0 259.9 378.2C260.7 382.3 261.5 385.3 262.4 388.5C263.3 391.6 264.3 394.6 265.2 397.2C266.1 399.8 266.9 404.0 267.6 404.3C268.4 404.5 268.9 400.3 269.7 398.7C270.4 397.0 271.4 395.1 272.1 394.3C272.8 393.4 273.3 393.1 273.9 393.6C274.5 394.1 275.2 395.4 275.9 397.2C276.6 399.0 277.5 402.6 278.2 404.5C278.9 406.3 279.4 408.6 280.1 408.2C280.8 407.9 281.6 404.0 282.4 402.3C283.2 400.6 283.9 398.2 284.8 397.9C285.7 397.7 286.6 399.8 287.6 400.8C288.7 401.9 290.1 404.4 291.1 404.5C292.2 404.6 293.1 403.5 293.9 401.6C294.7 399.6 295.3 396.7 296.0 392.8C296.7 388.9 297.4 383.1 298.1 378.2C298.8 373.3 299.6 367.5 300.3 363.5C301.0 359.5 301.8 355.9 302.4 354.0C303.0 352.2 303.5 351.8 304.1 352.2C304.7 352.5 305.3 353.1 305.9 356.2C306.5 359.4 307.1 365.5 307.7 370.9C308.3 376.3 308.8 382.9 309.4 388.5C310.0 394.1 310.6 400.6 311.2 404.5C311.8 408.4 312.3 410.4 312.9 411.9C313.5 413.3 314.2 413.3 315.0 413.3C315.8 413.3 316.9 413.6 317.6 411.9C318.3 410.2 318.6 406.9 319.2 403.0C319.8 399.1 320.3 393.1 320.9 388.5C321.5 383.8 322.2 378.2 322.8 375.3C323.4 372.3 324.0 370.3 324.6 370.6C325.2 370.8 325.7 373.5 326.3 376.7C326.9 379.9 327.8 386.9 328.4 389.9C329.0 393.0 329.6 395.3 330.2 395.0C330.8 394.8 331.3 391.8 331.9 388.5C332.5 385.2 333.3 378.2 334.0 375.3C334.7 372.3 335.4 370.7 336.1 370.9C336.8 371.1 337.6 373.1 338.2 376.7C338.8 380.4 339.3 388.1 339.9 392.8C340.5 397.6 341.2 402.4 341.8 405.2C342.4 408.0 342.7 409.3 343.4 409.7C344.1 410.1 345.2 408.1 346.0 407.7C346.8 407.3 347.3 407.3 348.1 407.5C348.9 407.7 350.0 408.9 350.9 408.6C351.8 408.4 352.8 407.2 353.7 406.0C354.6 404.9 355.4 402.5 356.1 401.6C356.8 400.6 357.2 400.1 357.9 400.4C358.6 400.8 359.4 404.1 360.1 403.8C360.8 403.5 361.6 402.2 362.2 398.7C362.8 395.1 363.4 388.4 364.0 382.5C364.6 376.7 365.1 369.4 365.7 363.5C366.3 357.7 366.9 351.1 367.5 347.5C368.1 343.9 368.6 341.9 369.2 341.9C369.8 341.9 370.3 343.6 370.9 347.5C371.5 351.4 372.1 358.7 372.7 365.1C373.3 371.4 373.9 379.5 374.5 385.6C375.1 391.6 375.9 397.8 376.5 401.6C377.1 405.4 377.6 408.0 378.3 408.2C379.0 408.5 379.8 405.4 380.5 403.0C381.2 400.7 381.9 396.8 382.6 394.3C383.3 391.7 384.1 389.1 384.7 387.7C385.3 386.4 385.6 385.8 386.1 386.3C386.6 386.8 387.3 389.0 387.9 390.7C388.5 392.4 389.1 395.3 389.6 396.5C390.1 397.7 390.5 398.5 391.0 397.9C391.5 397.3 392.1 395.5 392.7 392.8C393.3 390.2 394.1 384.4 394.9 381.8C395.7 379.2 396.6 377.3 397.3 377.4C398.1 377.6 398.7 379.2 399.4 382.5C400.1 385.8 400.9 392.6 401.6 397.2C402.3 401.9 403.0 407.4 403.7 410.4C404.4 413.4 405.1 414.2 405.8 415.1C406.5 416.0 407.0 416.7 407.9 415.9C408.8 415.1 409.9 412.8 410.9 410.4C411.9 408.0 412.8 405.5 413.7 401.6C414.6 397.7 415.5 392.1 416.3 387.0C417.1 381.9 417.8 375.2 418.4 370.9C419.0 366.6 419.7 363.2 420.2 361.3C420.7 359.4 421.1 358.8 421.6 359.5C422.1 360.1 422.7 361.5 423.3 365.1C423.9 368.7 424.7 376.2 425.4 381.1C426.1 386.0 426.9 391.4 427.5 394.3C428.1 397.2 428.6 398.9 429.2 398.7C429.8 398.4 430.4 396.0 431.0 392.8C431.6 389.7 432.4 382.8 433.1 379.6C433.8 376.5 434.6 374.3 435.3 373.8C436.0 373.3 436.5 374.8 437.1 376.7C437.8 378.7 438.6 383.8 439.2 385.6C439.8 387.3 440.1 387.6 440.5 387.0C440.9 386.4 441.4 383.2 441.9 381.8C442.4 380.5 442.8 378.7 443.3 378.9C443.8 379.1 444.5 380.5 445.1 383.3C445.7 386.1 446.3 392.0 446.9 395.8C447.5 399.5 448.0 403.4 448.6 406.0C449.2 408.7 449.9 410.7 450.7 411.9C451.5 413.0 452.6 412.9 453.5 413.0C454.4 413.1 455.4 413.5 456.4 412.6C457.3 411.7 458.3 410.3 459.2 407.5C460.1 404.7 460.8 400.4 461.6 395.8C462.4 391.1 463.1 384.0 463.8 379.6C464.5 375.2 465.2 371.5 465.8 369.4C466.4 367.4 466.7 366.9 467.2 367.3C467.7 367.6 468.2 368.8 468.7 371.6C469.2 374.4 469.8 379.7 470.4 384.0C471.0 388.3 471.7 393.8 472.3 397.2C472.9 400.6 473.6 404.0 474.2 404.3C474.8 404.5 475.4 401.3 476.1 398.7C476.8 396.0 477.4 391.4 478.2 388.5C479.0 385.5 480.1 383.5 481.0 381.1C481.9 378.6 483.0 375.4 483.8 373.8C484.6 372.2 485.0 371.1 485.6 371.6C486.2 372.1 487.0 372.9 487.7 376.7C488.4 380.5 489.1 389.2 489.8 394.3C490.5 399.4 491.4 404.5 492.0 407.5C492.6 410.6 493.1 411.6 493.6 412.6C494.1 413.6 494.5 414.2 495.1 413.3C495.7 412.5 496.5 410.4 497.2 407.5C497.9 404.6 498.5 400.4 499.3 395.8C500.1 391.1 501.0 384.7 501.8 379.6C502.6 374.5 503.4 368.7 504.2 365.1C504.9 361.4 505.6 357.9 506.3 357.7C507.0 357.4 507.5 360.3 508.1 363.5C508.7 366.7 509.2 371.8 509.8 376.7C510.4 381.6 511.2 388.8 511.9 392.8C512.6 396.9 513.2 400.4 514.0 400.8C514.8 401.3 516.0 397.4 516.9 395.8C517.8 394.1 518.5 391.6 519.3 390.7C520.1 389.7 520.8 389.6 521.5 390.2C522.2 390.8 522.8 391.9 523.5 394.3C524.2 396.7 525.0 401.6 525.7 404.5C526.4 407.4 527.1 410.3 527.8 411.9C528.5 413.5 529.2 414.3 529.9 414.1C530.6 413.8 531.4 413.0 532.1 410.4C532.9 407.8 533.5 402.8 534.4 398.7C535.3 394.5 536.4 389.3 537.3 385.6C538.2 381.8 539.0 378.1 539.8 376.0C540.5 373.9 541.2 373.0 541.8 373.1C542.4 373.2 543.2 375.6 543.6 376.7C544.0 377.8 544.2 379.1 544.3 379.6" stroke="#fbdddd" stroke-width="3.4" transform="translate(0,0.3)"/>
<path class="calc" d="M145.3 394.8C146.1 394.8 148.3 395.2 149.8 394.8C151.3 394.4 152.9 393.1 154.1 392.7C155.3 392.3 156.0 392.1 156.9 392.4C157.8 392.7 158.8 393.8 159.7 394.4C160.6 395.0 161.4 396.2 162.5 396.2C163.6 396.1 164.8 394.9 166.0 394.1C167.2 393.3 168.5 392.7 169.5 391.3C170.5 389.9 171.4 386.8 172.1 385.7C172.8 384.6 173.2 384.1 173.8 384.5C174.4 384.9 175.2 386.3 175.9 387.8C176.7 389.3 177.4 391.9 178.3 393.4C179.2 394.9 180.6 397.2 181.5 396.9C182.4 396.5 183.0 394.4 183.6 391.3C184.2 388.2 184.7 382.4 185.3 378.6C185.9 374.9 186.6 370.7 187.1 368.8C187.6 366.9 187.9 366.4 188.3 367.1C188.7 367.8 189.2 369.4 189.7 373.0C190.2 376.6 190.8 384.0 191.4 388.5C192.0 393.0 192.6 398.8 193.2 400.0C193.8 401.2 194.3 398.6 194.9 395.5C195.5 392.4 196.3 384.8 197.0 381.4C197.7 378.0 198.4 375.3 199.1 375.1C199.8 374.9 200.5 377.1 201.2 380.0C201.9 382.9 202.6 389.3 203.3 392.7C204.0 396.1 204.6 399.5 205.4 400.4C206.2 401.3 207.0 398.9 208.2 398.3C209.4 397.7 211.3 398.1 212.5 396.9C213.7 395.7 214.4 392.7 215.3 391.3C216.2 389.9 217.2 388.3 218.1 388.5C219.0 388.7 219.7 390.6 220.5 392.7C221.3 394.8 222.2 398.8 223.0 401.1C223.8 403.5 224.8 405.7 225.5 406.8C226.2 407.9 226.6 408.4 227.2 407.9C227.8 407.4 228.6 406.9 229.3 403.9C230.0 400.9 230.8 395.3 231.5 389.9C232.2 384.5 232.9 375.8 233.6 371.6C234.2 367.4 234.8 364.7 235.4 364.5C236.0 364.3 236.5 366.4 237.1 370.2C237.7 374.0 238.3 382.2 238.9 387.1C239.5 392.0 240.0 396.8 240.6 399.7C241.2 402.6 241.6 404.1 242.4 404.6C243.2 405.1 244.5 403.3 245.5 402.5C246.5 401.7 247.5 400.9 248.3 399.7C249.1 398.5 249.8 398.6 250.5 395.5C251.2 392.4 251.9 386.3 252.6 381.4C253.2 376.5 253.8 369.7 254.4 366.0C255.0 362.3 255.5 359.4 256.1 359.2C256.7 358.9 257.2 361.3 257.8 364.5C258.4 367.7 259.1 374.6 259.9 378.6C260.7 382.6 261.5 385.4 262.4 388.5C263.3 391.6 264.3 394.4 265.2 396.9C266.1 399.4 266.9 403.5 267.6 403.7C268.4 403.9 268.9 399.9 269.7 398.3C270.4 396.7 271.4 394.9 272.1 394.1C272.8 393.3 273.3 392.9 273.9 393.4C274.5 393.9 275.2 395.1 275.9 396.9C276.6 398.6 277.5 402.1 278.2 403.9C278.9 405.7 279.4 407.9 280.1 407.5C280.8 407.1 281.6 403.4 282.4 401.8C283.2 400.2 283.9 397.8 284.8 397.6C285.7 397.4 286.6 399.3 287.6 400.4C288.7 401.4 290.1 403.8 291.1 403.9C292.2 404.0 293.1 403.0 293.9 401.1C294.7 399.2 295.3 396.4 296.0 392.7C296.7 388.9 297.4 383.3 298.1 378.6C298.8 373.9 299.6 368.4 300.3 364.5C301.0 360.6 301.8 357.2 302.4 355.4C303.0 353.6 303.5 353.2 304.1 353.6C304.7 354.0 305.3 354.5 305.9 357.5C306.5 360.5 307.1 366.4 307.7 371.6C308.3 376.8 308.8 383.1 309.4 388.5C310.0 393.9 310.6 400.1 311.2 403.9C311.8 407.6 312.3 409.6 312.9 411.0C313.5 412.4 314.2 412.4 315.0 412.4C315.8 412.4 316.9 412.6 317.6 411.0C318.3 409.4 318.6 406.2 319.2 402.5C319.8 398.8 320.3 392.9 320.9 388.5C321.5 384.1 322.2 378.7 322.8 375.8C323.4 372.9 324.0 371.1 324.6 371.3C325.2 371.5 325.7 374.1 326.3 377.2C326.9 380.3 327.8 387.0 328.4 389.9C329.0 392.8 329.6 395.0 330.2 394.8C330.8 394.6 331.3 391.7 331.9 388.5C332.5 385.3 333.3 378.6 334.0 375.8C334.7 373.0 335.4 371.4 336.1 371.6C336.8 371.8 337.6 373.7 338.2 377.2C338.8 380.7 339.3 388.1 339.9 392.7C340.5 397.3 341.2 401.9 341.8 404.6C342.4 407.3 342.7 408.5 343.4 408.9C344.1 409.3 345.2 407.4 346.0 407.0C346.8 406.6 347.3 406.7 348.1 406.8C348.9 406.9 350.0 408.1 350.9 407.9C351.8 407.7 352.8 406.5 353.7 405.4C354.6 404.3 355.4 402.0 356.1 401.1C356.8 400.2 357.2 399.6 357.9 400.0C358.6 400.4 359.4 403.5 360.1 403.2C360.8 402.9 361.6 401.7 362.2 398.3C362.8 394.9 363.4 388.4 364.0 382.8C364.6 377.2 365.1 370.1 365.7 364.5C366.3 358.9 366.9 352.6 367.5 349.1C368.1 345.6 368.6 343.7 369.2 343.7C369.8 343.7 370.3 345.4 370.9 349.1C371.5 352.8 372.1 359.9 372.7 366.0C373.3 372.1 373.9 379.8 374.5 385.7C375.1 391.6 375.9 397.5 376.5 401.1C377.1 404.7 377.6 407.3 378.3 407.5C379.0 407.7 379.8 404.7 380.5 402.5C381.2 400.3 381.9 396.6 382.6 394.1C383.3 391.7 384.1 389.1 384.7 387.8C385.3 386.5 385.6 385.9 386.1 386.4C386.6 386.9 387.3 389.0 387.9 390.6C388.5 392.2 389.1 395.0 389.6 396.2C390.1 397.4 390.5 398.2 391.0 397.6C391.5 397.0 392.1 395.3 392.7 392.7C393.3 390.1 394.1 384.6 394.9 382.1C395.7 379.6 396.6 377.8 397.3 377.9C398.1 378.0 398.7 379.6 399.4 382.8C400.1 386.0 400.9 392.4 401.6 396.9C402.3 401.4 403.0 406.7 403.7 409.6C404.4 412.5 405.1 413.2 405.8 414.1C406.5 415.0 407.0 415.6 407.9 414.9C408.8 414.1 409.9 411.9 410.9 409.6C411.9 407.3 412.8 404.9 413.7 401.1C414.6 397.4 415.5 392.0 416.3 387.1C417.1 382.2 417.8 375.7 418.4 371.6C419.0 367.5 419.7 364.2 420.2 362.4C420.7 360.6 421.1 360.0 421.6 360.6C422.1 361.2 422.7 362.5 423.3 366.0C423.9 369.5 424.7 376.7 425.4 381.4C426.1 386.1 426.9 391.3 427.5 394.1C428.1 396.9 428.6 398.5 429.2 398.3C429.8 398.1 430.4 395.8 431.0 392.7C431.6 389.6 432.4 383.1 433.1 380.0C433.8 376.9 434.6 374.9 435.3 374.4C436.0 373.9 436.5 375.3 437.1 377.2C437.8 379.1 438.6 384.0 439.2 385.7C439.8 387.4 440.1 387.7 440.5 387.1C440.9 386.5 441.4 383.4 441.9 382.1C442.4 380.8 442.8 379.1 443.3 379.3C443.8 379.5 444.5 380.8 445.1 383.5C445.7 386.2 446.3 391.9 446.9 395.5C447.5 399.1 448.0 402.8 448.6 405.4C449.2 408.0 449.9 409.9 450.7 411.0C451.5 412.1 452.6 412.0 453.5 412.1C454.4 412.2 455.4 412.6 456.4 411.7C457.3 410.8 458.3 409.5 459.2 406.8C460.1 404.1 460.8 400.0 461.6 395.5C462.4 391.0 463.1 384.2 463.8 380.0C464.5 375.8 465.2 372.2 465.8 370.2C466.4 368.2 466.7 367.8 467.2 368.1C467.7 368.5 468.2 369.6 468.7 372.3C469.2 375.0 469.8 380.1 470.4 384.2C471.0 388.3 471.7 393.6 472.3 396.9C472.9 400.1 473.6 403.5 474.2 403.7C474.8 403.9 475.4 400.8 476.1 398.3C476.8 395.8 477.4 391.3 478.2 388.5C479.0 385.7 480.1 383.8 481.0 381.4C481.9 379.0 483.0 375.9 483.8 374.4C484.6 372.9 485.0 371.8 485.6 372.3C486.2 372.8 487.0 373.6 487.7 377.2C488.4 380.8 489.1 389.2 489.8 394.1C490.5 399.0 491.4 403.9 492.0 406.8C492.6 409.7 493.1 410.8 493.6 411.7C494.1 412.6 494.5 413.2 495.1 412.4C495.7 411.6 496.5 409.6 497.2 406.8C497.9 404.0 498.5 400.0 499.3 395.5C500.1 391.0 501.0 384.9 501.8 380.0C502.6 375.1 503.4 369.5 504.2 366.0C504.9 362.5 505.6 359.1 506.3 358.9C507.0 358.6 507.5 361.4 508.1 364.5C508.7 367.6 509.2 372.5 509.8 377.2C510.4 381.9 511.2 388.8 511.9 392.7C512.6 396.6 513.2 399.9 514.0 400.4C514.8 400.9 516.0 397.1 516.9 395.5C517.8 393.9 518.5 391.5 519.3 390.6C520.1 389.7 520.8 389.6 521.5 390.2C522.2 390.8 522.8 391.8 523.5 394.1C524.2 396.4 525.0 401.1 525.7 403.9C526.4 406.7 527.1 409.5 527.8 411.0C528.5 412.5 529.2 413.3 529.9 413.1C530.6 412.9 531.4 412.1 532.1 409.6C532.9 407.1 533.5 402.3 534.4 398.3C535.3 394.3 536.4 389.3 537.3 385.7C538.2 382.1 539.0 378.5 539.8 376.5C540.5 374.5 541.2 373.6 541.8 373.7C542.4 373.8 543.2 376.1 543.6 377.2C544.0 378.2 544.2 379.5 544.3 380.0" stroke="#e63f40" stroke-width="1.85"/>
<path class="exp" d="M145.3 486.8C145.7 487.1 146.8 488.5 147.7 488.7C148.6 488.8 149.5 488.3 150.6 487.7C151.7 487.0 153.2 485.3 154.1 484.8C155.0 484.3 155.4 484.1 156.2 484.4C157.0 484.8 158.1 486.2 159.0 487.1C159.9 487.9 160.8 489.4 161.8 489.5C162.9 489.6 164.1 488.6 165.3 487.7C166.5 486.8 167.7 485.4 168.8 484.1C169.9 482.8 171.0 480.5 171.7 479.7C172.4 478.9 172.5 478.7 173.1 479.2C173.7 479.7 174.4 481.1 175.2 482.5C176.0 483.8 176.9 485.8 178.0 487.4C179.1 489.0 180.6 492.2 181.5 492.0C182.4 491.8 182.7 489.5 183.3 486.1C183.9 482.6 184.5 475.1 185.0 471.0C185.5 466.9 186.0 463.2 186.4 461.3C186.8 459.5 187.0 459.1 187.4 459.9C187.8 460.6 188.2 462.0 188.8 465.9C189.4 469.8 190.1 478.5 190.7 483.3C191.3 488.1 191.9 492.5 192.3 494.6C192.7 496.6 192.8 496.5 193.2 495.7C193.6 494.8 194.3 492.5 194.9 489.4C195.5 486.4 196.3 480.2 197.0 477.3C197.7 474.4 198.4 472.1 199.1 472.1C199.8 472.1 200.3 474.4 200.9 477.3C201.5 480.2 202.2 486.3 202.9 489.4C203.6 492.6 204.2 495.4 205.0 496.2C205.8 496.9 206.5 494.5 207.5 493.9C208.5 493.3 210.0 493.4 211.1 492.4C212.2 491.4 213.0 489.2 213.9 487.9C214.8 486.6 215.8 484.9 216.7 484.6C217.6 484.4 218.3 484.9 219.1 486.4C219.9 488.0 220.8 491.4 221.6 493.9C222.4 496.4 223.3 500.0 224.1 501.5C224.9 503.1 225.8 503.4 226.5 503.2C227.2 503.1 227.9 503.5 228.6 500.7C229.3 497.9 230.1 491.6 230.8 486.4C231.5 481.3 232.0 473.9 232.6 469.8C233.2 465.8 233.7 462.4 234.3 462.4C234.9 462.4 235.5 466.1 236.1 469.8C236.7 473.6 237.5 480.8 238.1 484.9C238.7 489.1 239.2 492.5 239.9 494.7C240.6 496.8 241.1 497.4 242.0 497.7C242.9 497.9 244.4 496.8 245.5 496.2C246.6 495.5 247.5 495.5 248.3 493.9C249.1 492.3 249.8 490.4 250.5 486.4C251.2 482.4 251.7 475.2 252.3 469.8C252.9 464.4 253.5 457.2 254.0 454.0C254.5 450.8 254.7 450.3 255.1 450.6C255.5 450.8 255.9 451.8 256.5 455.5C257.1 459.2 257.9 467.9 258.6 472.8C259.4 477.7 260.1 481.7 261.0 484.9C261.9 488.2 262.9 490.5 263.8 492.4C264.7 494.4 265.4 496.6 266.2 496.6C267.0 496.6 268.1 493.5 268.7 492.4C269.3 491.4 269.4 490.5 270.0 490.2C270.6 489.8 271.3 489.7 272.1 490.2C272.9 490.7 274.0 491.8 274.9 493.2C275.8 494.5 276.9 497.2 277.7 498.4C278.5 499.7 278.9 501.3 279.6 500.7C280.3 500.0 281.3 496.1 282.0 494.7C282.7 493.2 283.1 492.1 283.8 492.1C284.5 492.1 285.2 493.7 286.2 494.7C287.2 495.6 288.6 497.5 289.7 497.7C290.8 497.8 291.7 496.9 292.5 495.4C293.3 493.9 293.9 492.4 294.6 488.7C295.3 484.9 295.9 477.7 296.5 472.8C297.1 468.0 297.5 463.0 298.1 459.4C298.7 455.7 299.6 452.7 300.3 451.0C301.0 449.4 301.5 449.0 302.1 449.5C302.7 450.0 303.2 450.6 303.8 454.0C304.4 457.4 305.0 463.9 305.6 469.8C306.2 475.7 307.0 484.0 307.6 489.4C308.2 494.8 308.8 499.3 309.4 502.3C310.0 505.3 310.4 506.5 311.2 507.5C311.9 508.5 313.1 508.5 313.9 508.3C314.7 508.0 315.5 508.2 316.2 506.0C316.9 503.9 317.2 499.4 317.8 495.4C318.4 491.4 318.9 485.9 319.5 481.9C320.1 477.9 320.8 473.4 321.4 471.3C321.9 469.3 322.3 468.8 322.8 469.8C323.3 470.8 324.0 474.3 324.6 477.3C325.2 480.3 326.0 485.8 326.6 487.9C327.2 490.1 327.8 490.9 328.4 490.2C329.0 489.4 329.5 486.8 330.2 483.4C330.9 480.0 331.6 473.0 332.3 469.8C333.0 466.7 333.7 464.6 334.3 464.6C334.9 464.6 335.5 466.2 336.1 469.8C336.7 473.5 337.4 481.4 338.0 486.4C338.6 491.5 339.1 497.1 339.7 500.0C340.3 503.0 340.8 503.7 341.5 504.2C342.2 504.7 343.0 503.1 343.9 503.0C344.8 502.9 345.8 503.5 346.7 503.8C347.6 504.0 348.3 505.0 349.1 504.5C349.9 504.0 350.8 501.9 351.6 500.7C352.4 499.4 353.1 497.7 353.7 496.9C354.3 496.2 354.8 495.9 355.4 496.2C356.0 496.4 356.6 497.9 357.2 498.4C357.8 498.9 358.3 500.2 358.9 499.2C359.5 498.2 360.2 496.8 360.8 492.4C361.4 488.0 361.9 479.4 362.4 472.8C362.9 466.3 363.4 458.6 364.0 453.3C364.6 447.9 365.2 442.9 365.7 440.5C366.2 438.2 366.6 438.4 367.1 439.0C367.6 439.7 368.0 440.4 368.5 444.3C369.0 448.2 369.7 456.1 370.3 462.4C370.9 468.6 371.4 476.4 372.0 481.9C372.6 487.4 373.1 492.3 373.8 495.4C374.5 498.5 375.4 500.2 376.2 500.7C376.9 501.2 377.6 500.3 378.3 498.4C379.0 496.5 379.8 492.0 380.5 489.4C381.2 486.8 382.0 484.0 382.6 482.7C383.2 481.4 383.5 481.0 384.0 481.6C384.5 482.2 385.1 484.8 385.7 486.4C386.3 488.1 387.0 490.7 387.5 491.7C388.0 492.7 388.4 493.3 388.9 492.4C389.4 491.5 390.1 489.1 390.7 486.4C391.3 483.8 392.0 478.8 392.7 476.6C393.4 474.3 394.1 472.7 394.8 472.8C395.5 473.0 396.0 474.3 396.6 477.3C397.2 480.3 398.0 486.6 398.7 490.9C399.4 495.2 400.2 500.1 400.9 503.0C401.6 505.9 402.2 507.1 403.0 508.3C403.8 509.4 405.1 509.9 405.8 509.8C406.6 509.6 406.8 509.1 407.5 507.5C408.2 505.9 409.4 503.2 410.3 499.9C411.2 496.6 411.9 492.7 412.7 487.9C413.4 483.2 414.1 476.6 414.8 471.3C415.5 466.1 416.4 459.4 417.0 456.3C417.6 453.1 418.1 452.4 418.6 452.5C419.1 452.6 419.6 453.4 420.2 457.0C420.8 460.6 421.5 468.9 422.2 474.3C422.9 479.7 423.6 486.0 424.3 489.4C425.0 492.8 425.5 494.7 426.1 494.7C426.7 494.7 427.2 492.3 427.8 489.4C428.4 486.5 429.2 480.3 429.9 477.3C430.5 474.3 431.2 472.4 431.7 471.3C432.2 470.3 432.4 470.0 432.9 471.0C433.4 472.0 434.1 475.4 434.8 477.3C435.5 479.3 436.2 482.7 436.9 482.7C437.6 482.7 438.1 479.2 438.8 477.3C439.5 475.4 440.2 471.6 440.9 471.3C441.5 471.1 442.1 472.8 442.7 475.8C443.3 478.8 443.8 485.1 444.4 489.4C445.0 493.7 445.5 498.5 446.1 501.5C446.7 504.5 447.2 506.3 447.9 507.5C448.5 508.7 449.2 508.7 450.0 508.7C450.8 508.7 451.9 508.5 452.8 507.5C453.8 506.6 454.8 505.5 455.7 503.0C456.6 500.5 457.4 496.5 458.2 492.4C459.0 488.4 459.6 483.0 460.3 478.8C461.0 474.7 461.8 470.0 462.4 467.6C463.0 465.2 463.5 464.4 464.1 464.6C464.7 464.9 465.2 466.2 465.8 469.1C466.4 472.0 467.0 477.7 467.6 481.9C468.2 486.2 468.8 491.7 469.4 494.7C470.0 497.7 470.5 499.8 471.1 499.9C471.7 500.0 472.1 497.9 472.8 495.4C473.5 492.9 474.5 488.2 475.4 484.9C476.3 481.7 477.3 478.6 478.2 475.8C479.1 473.1 480.2 469.9 481.0 468.3C481.8 466.8 482.1 466.0 482.7 466.5C483.3 467.0 483.9 468.0 484.5 471.3C485.1 474.7 485.7 481.4 486.3 486.4C486.9 491.5 487.7 497.9 488.3 501.5C488.9 505.2 489.6 507.0 490.1 508.3C490.6 509.5 490.8 509.6 491.3 509.0C491.9 508.4 492.6 507.5 493.4 504.5C494.1 501.5 495.0 496.0 495.8 490.9C496.6 485.9 497.3 479.9 498.1 474.3C498.9 468.8 499.9 461.3 500.7 457.8C501.5 454.2 502.1 453.1 502.8 453.3C503.5 453.4 504.0 455.3 504.6 458.6C505.2 461.9 505.7 467.7 506.3 472.8C506.9 478.0 507.8 485.6 508.4 489.4C509.0 493.2 509.5 495.4 510.2 495.7C510.9 496.1 511.7 493.3 512.6 491.7C513.5 490.0 514.6 486.9 515.5 485.7C516.4 484.4 517.2 483.8 518.0 484.2C518.8 484.6 519.4 485.6 520.1 487.9C520.8 490.3 521.5 495.4 522.2 498.4C522.9 501.4 523.6 504.2 524.3 506.0C525.0 507.8 525.7 509.0 526.3 509.0C526.9 509.0 527.4 508.5 528.1 506.0C528.8 503.5 529.7 497.9 530.5 493.9C531.3 489.9 532.2 485.6 533.0 481.9C533.8 478.3 534.5 474.4 535.2 472.1C535.9 469.8 536.5 468.6 537.0 468.3C537.5 468.1 538.0 469.5 538.4 470.6C538.8 471.7 539.2 474.3 539.4 475.1" stroke="#dedede" stroke-width="4.2" transform="translate(0,0.3)"/>
<path class="calc" d="M145.3 488.1C145.7 488.4 146.8 489.7 147.7 489.8C148.6 489.9 149.5 489.4 150.6 488.8C151.7 488.2 153.2 486.5 154.1 486.0C155.0 485.5 155.4 485.3 156.2 485.6C157.0 485.9 158.1 487.2 159.0 488.0C159.9 488.8 160.8 490.1 161.8 490.2C162.9 490.3 164.1 489.3 165.3 488.4C166.5 487.5 167.7 486.2 168.8 484.9C169.9 483.6 171.0 481.5 171.7 480.7C172.4 479.9 172.5 479.8 173.1 480.2C173.7 480.6 174.4 481.9 175.2 483.2C176.0 484.4 176.9 486.2 178.0 487.7C179.1 489.1 180.6 492.1 181.5 491.9C182.4 491.7 182.7 489.6 183.3 486.3C183.9 483.0 184.5 476.1 185.0 472.2C185.5 468.3 186.0 464.9 186.4 463.1C186.8 461.4 187.0 461.0 187.4 461.7C187.8 462.4 188.2 463.7 188.8 467.3C189.4 470.9 190.1 479.1 190.7 483.5C191.3 487.9 191.9 492.1 192.3 494.0C192.7 495.9 192.8 495.8 193.2 495.0C193.6 494.2 194.3 492.0 194.9 489.1C195.5 486.2 196.3 480.5 197.0 477.8C197.7 475.1 198.4 472.9 199.1 472.9C199.8 472.9 200.3 475.1 200.9 477.8C201.5 480.5 202.2 486.2 202.9 489.1C203.6 492.0 204.2 494.7 205.0 495.4C205.8 496.1 206.5 493.9 207.5 493.3C208.5 492.7 210.0 492.8 211.1 491.9C212.2 491.0 213.0 488.9 213.9 487.7C214.8 486.5 215.8 484.8 216.7 484.6C217.6 484.4 218.3 484.9 219.1 486.3C219.9 487.8 220.8 491.0 221.6 493.3C222.4 495.6 223.3 498.9 224.1 500.4C224.9 501.8 225.8 502.1 226.5 502.0C227.2 501.9 227.9 502.2 228.6 499.6C229.3 497.0 230.1 491.1 230.8 486.3C231.5 481.5 232.0 474.6 232.6 470.8C233.2 467.1 233.7 463.8 234.3 463.8C234.9 463.8 235.5 467.3 236.1 470.8C236.7 474.3 237.5 481.0 238.1 484.9C238.7 488.8 239.2 492.0 239.9 494.0C240.6 496.0 241.1 496.6 242.0 496.8C242.9 497.0 244.4 496.0 245.5 495.4C246.6 494.8 247.5 494.8 248.3 493.3C249.1 491.8 249.8 490.1 250.5 486.3C251.2 482.6 251.7 475.9 252.3 470.8C252.9 465.8 253.5 459.0 254.0 456.0C254.5 453.0 254.7 452.6 255.1 452.8C255.5 453.0 255.9 453.9 256.5 457.4C257.1 460.9 257.9 469.0 258.6 473.6C259.4 478.2 260.1 481.8 261.0 484.9C261.9 487.9 262.9 490.1 263.8 491.9C264.7 493.7 265.4 495.8 266.2 495.8C267.0 495.8 268.1 492.9 268.7 491.9C269.3 490.9 269.4 490.1 270.0 489.8C270.6 489.5 271.3 489.3 272.1 489.8C272.9 490.3 274.0 491.3 274.9 492.6C275.8 493.9 276.9 496.3 277.7 497.5C278.5 498.7 278.9 500.2 279.6 499.6C280.3 499.0 281.3 495.3 282.0 494.0C282.7 492.7 283.1 491.6 283.8 491.6C284.5 491.6 285.2 493.1 286.2 494.0C287.2 494.9 288.6 496.7 289.7 496.8C290.8 496.9 291.7 496.1 292.5 494.7C293.3 493.3 293.9 491.9 294.6 488.4C295.3 484.9 295.9 478.2 296.5 473.6C297.1 469.0 297.5 464.4 298.1 461.0C298.7 457.6 299.6 454.7 300.3 453.2C301.0 451.7 301.5 451.3 302.1 451.8C302.7 452.3 303.2 452.8 303.8 456.0C304.4 459.2 305.0 465.3 305.6 470.8C306.2 476.3 307.0 484.1 307.6 489.1C308.2 494.2 308.8 498.3 309.4 501.1C310.0 503.9 310.4 505.1 311.2 506.0C311.9 506.9 313.1 506.9 313.9 506.7C314.7 506.5 315.5 506.6 316.2 504.6C316.9 502.6 317.2 498.4 317.8 494.7C318.4 490.9 318.9 485.9 319.5 482.1C320.1 478.4 320.8 474.1 321.4 472.2C321.9 470.3 322.3 469.9 322.8 470.8C323.3 471.7 324.0 475.0 324.6 477.8C325.2 480.6 326.0 485.7 326.6 487.7C327.2 489.7 327.8 490.5 328.4 489.8C329.0 489.1 329.5 486.7 330.2 483.5C330.9 480.3 331.6 473.7 332.3 470.8C333.0 467.9 333.7 465.9 334.3 465.9C334.9 465.9 335.5 467.4 336.1 470.8C336.7 474.2 337.4 481.6 338.0 486.3C338.6 491.0 339.1 496.2 339.7 499.0C340.3 501.8 340.8 502.4 341.5 502.9C342.2 503.4 343.0 501.9 343.9 501.8C344.8 501.7 345.8 502.3 346.7 502.5C347.6 502.7 348.3 503.7 349.1 503.2C349.9 502.7 350.8 500.8 351.6 499.6C352.4 498.4 353.1 496.8 353.7 496.1C354.3 495.4 354.8 495.2 355.4 495.4C356.0 495.6 356.6 497.0 357.2 497.5C357.8 498.0 358.3 499.1 358.9 498.2C359.5 497.3 360.2 496.0 360.8 491.9C361.4 487.8 361.9 479.7 362.4 473.6C362.9 467.5 363.4 460.3 364.0 455.3C364.6 450.3 365.2 445.6 365.7 443.4C366.2 441.2 366.6 441.4 367.1 442.0C367.6 442.6 368.0 443.3 368.5 446.9C369.0 450.5 369.7 457.9 370.3 463.8C370.9 469.7 371.4 477.0 372.0 482.1C372.6 487.2 373.1 491.8 373.8 494.7C374.5 497.6 375.4 499.1 376.2 499.6C376.9 500.1 377.6 499.2 378.3 497.5C379.0 495.8 379.8 491.6 380.5 489.1C381.2 486.7 382.0 484.0 382.6 482.8C383.2 481.6 383.5 481.2 384.0 481.8C384.5 482.4 385.1 484.7 385.7 486.3C386.3 487.9 387.0 490.3 387.5 491.2C388.0 492.1 388.4 492.7 388.9 491.9C389.4 491.1 390.1 488.8 390.7 486.3C391.3 483.8 392.0 479.2 392.7 477.1C393.4 475.0 394.1 473.5 394.8 473.6C395.5 473.7 396.0 475.0 396.6 477.8C397.2 480.6 398.0 486.5 398.7 490.5C399.4 494.5 400.2 499.1 400.9 501.8C401.6 504.5 402.2 505.6 403.0 506.7C403.8 507.8 405.1 508.2 405.8 508.1C406.6 508.0 406.8 507.5 407.5 506.0C408.2 504.5 409.4 501.9 410.3 498.9C411.2 495.8 411.9 492.1 412.7 487.7C413.4 483.2 414.1 477.1 414.8 472.2C415.5 467.3 416.4 461.0 417.0 458.1C417.6 455.2 418.1 454.5 418.6 454.6C419.1 454.7 419.6 455.4 420.2 458.8C420.8 462.2 421.5 469.9 422.2 475.0C422.9 480.1 423.6 485.9 424.3 489.1C425.0 492.3 425.5 494.0 426.1 494.0C426.7 494.0 427.2 491.8 427.8 489.1C428.4 486.4 429.2 480.6 429.9 477.8C430.5 475.0 431.2 473.2 431.7 472.2C432.2 471.2 432.4 471.0 432.9 471.9C433.4 472.8 434.1 476.0 434.8 477.8C435.5 479.6 436.2 482.8 436.9 482.8C437.6 482.8 438.1 479.6 438.8 477.8C439.5 476.0 440.2 472.4 440.9 472.2C441.5 472.0 442.1 473.6 442.7 476.4C443.3 479.2 443.8 485.1 444.4 489.1C445.0 493.1 445.5 497.6 446.1 500.4C446.7 503.2 447.2 504.9 447.9 506.0C448.5 507.1 449.2 507.1 450.0 507.1C450.8 507.1 451.9 506.9 452.8 506.0C453.8 505.1 454.8 504.2 455.7 501.8C456.6 499.4 457.4 495.7 458.2 491.9C459.0 488.1 459.6 483.1 460.3 479.2C461.0 475.3 461.8 470.9 462.4 468.7C463.0 466.5 463.5 465.7 464.1 465.9C464.7 466.1 465.2 467.4 465.8 470.1C466.4 472.8 467.0 478.1 467.6 482.1C468.2 486.1 468.8 491.2 469.4 494.0C470.0 496.8 470.5 498.8 471.1 498.9C471.7 499.0 472.1 497.0 472.8 494.7C473.5 492.4 474.5 487.9 475.4 484.9C476.3 481.8 477.3 479.0 478.2 476.4C479.1 473.8 480.2 470.8 481.0 469.4C481.8 467.9 482.1 467.2 482.7 467.7C483.3 468.2 483.9 469.1 484.5 472.2C485.1 475.3 485.7 481.6 486.3 486.3C486.9 491.0 487.7 497.0 488.3 500.4C488.9 503.8 489.6 505.5 490.1 506.7C490.6 507.9 490.8 508.0 491.3 507.4C491.9 506.8 492.6 506.0 493.4 503.2C494.1 500.4 495.0 495.2 495.8 490.5C496.6 485.8 497.3 480.2 498.1 475.0C498.9 469.8 499.9 462.8 500.7 459.5C501.5 456.2 502.1 455.2 502.8 455.3C503.5 455.4 504.0 457.2 504.6 460.3C505.2 463.4 505.7 468.8 506.3 473.6C506.9 478.4 507.8 485.5 508.4 489.1C509.0 492.7 509.5 494.6 510.2 495.0C510.9 495.4 511.7 492.8 512.6 491.2C513.5 489.6 514.6 486.8 515.5 485.6C516.4 484.4 517.2 483.9 518.0 484.2C518.8 484.5 519.4 485.5 520.1 487.7C520.8 489.9 521.5 494.7 522.2 497.5C522.9 500.3 523.6 503.0 524.3 504.6C525.0 506.2 525.7 507.4 526.3 507.4C526.9 507.4 527.4 507.0 528.1 504.6C528.8 502.2 529.7 497.1 530.5 493.3C531.3 489.6 532.2 485.5 533.0 482.1C533.8 478.7 534.5 475.0 535.2 472.9C535.9 470.8 536.5 469.6 537.0 469.4C537.5 469.2 538.0 470.4 538.4 471.5C538.8 472.6 539.2 475.0 539.4 475.7" stroke="#3f3f3f" stroke-width="1.85"/>
<rect x="112.10" y="129.25" width="2.80" height="396.50" fill="#000"/>
<rect x="600.75" y="129.25" width="2.30" height="396.50" fill="#000"/>
<rect x="112.10" y="129.25" width="490.95" height="2.70" fill="#000"/>
<rect x="112.10" y="522.85" width="490.95" height="2.90" fill="#000"/>
<line class="tk" x1="113.5" y1="170.4" x2="120.7" y2="170.4" stroke-width="2.6"/>
<line class="tk" x1="113.5" y1="209.8" x2="120.7" y2="209.8" stroke-width="2.6"/>
<line class="tk" x1="113.5" y1="249.2" x2="120.7" y2="249.2" stroke-width="2.6"/>
<line class="tk" x1="113.5" y1="288.6" x2="120.7" y2="288.6" stroke-width="2.6"/>
<line class="tk" x1="113.5" y1="328.0" x2="120.7" y2="328.0" stroke-width="2.6"/>
<line class="tk" x1="113.5" y1="367.4" x2="120.7" y2="367.4" stroke-width="2.6"/>
<line class="tk" x1="113.5" y1="406.8" x2="120.7" y2="406.8" stroke-width="2.6"/>
<line class="tk" x1="113.5" y1="446.2" x2="120.7" y2="446.2" stroke-width="2.6"/>
<line class="tk" x1="113.5" y1="485.6" x2="120.7" y2="485.6" stroke-width="2.6"/>
<line class="tk" x1="113.5" y1="150.7" x2="116.9" y2="150.7" stroke-width="2.6"/>
<line class="tk" x1="113.5" y1="190.1" x2="116.9" y2="190.1" stroke-width="2.6"/>
<line class="tk" x1="113.5" y1="229.5" x2="116.9" y2="229.5" stroke-width="2.6"/>
<line class="tk" x1="113.5" y1="268.9" x2="116.9" y2="268.9" stroke-width="2.6"/>
<line class="tk" x1="113.5" y1="308.3" x2="116.9" y2="308.3" stroke-width="2.6"/>
<line class="tk" x1="113.5" y1="347.7" x2="116.9" y2="347.7" stroke-width="2.6"/>
<line class="tk" x1="113.5" y1="387.1" x2="116.9" y2="387.1" stroke-width="2.6"/>
<line class="tk" x1="113.5" y1="426.5" x2="116.9" y2="426.5" stroke-width="2.6"/>
<line class="tk" x1="113.5" y1="465.9" x2="116.9" y2="465.9" stroke-width="2.6"/>
<line class="tk" x1="113.5" y1="505.3" x2="116.9" y2="505.3" stroke-width="2.6"/>
<line class="tk" x1="221.9" y1="524.3" x2="221.9" y2="517.0999999999999" stroke-width="2.6"/>
<line class="tk" x1="330.4" y1="524.3" x2="330.4" y2="517.0999999999999" stroke-width="2.6"/>
<line class="tk" x1="438.9" y1="524.3" x2="438.9" y2="517.0999999999999" stroke-width="2.6"/>
<line class="tk" x1="547.3" y1="524.3" x2="547.3" y2="517.0999999999999" stroke-width="2.6"/>
<line class="tk" x1="167.7" y1="524.3" x2="167.7" y2="520.9" stroke-width="2.6"/>
<line class="tk" x1="276.2" y1="524.3" x2="276.2" y2="520.9" stroke-width="2.6"/>
<line class="tk" x1="384.6" y1="524.3" x2="384.6" y2="520.9" stroke-width="2.6"/>
<line class="tk" x1="493.1" y1="524.3" x2="493.1" y2="520.9" stroke-width="2.6"/>
<text transform="translate(113.50,552.00)" font-size="23.5" text-anchor="middle">0</text>
<text transform="translate(221.95,552.00)" font-size="23.5" text-anchor="middle">5</text>
<text transform="translate(330.40,552.00)" font-size="23.5" text-anchor="middle">10</text>
<text transform="translate(438.85,552.00)" font-size="23.5" text-anchor="middle">15</text>
<text transform="translate(547.30,552.00)" font-size="23.5" text-anchor="middle">20</text>
<text transform="translate(357.70,591.60) scale(1.035,1)" font-size="25.4" text-anchor="middle"><tspan font-style="italic">r</tspan> (Å)</text>
<text transform="translate(94.60,326.60) rotate(-90) scale(1.054,1)" font-size="25.5" text-anchor="middle">G(<tspan font-style="italic">r</tspan>) (Å<tspan font-size="16" dy="-11.5">−2</tspan><tspan dy="11.5">)</tspan></text>
<line x1="283.5" y1="152.2" x2="320.5" y2="152.2" stroke="#e0ece8" stroke-width="1.3"/>
<text transform="translate(324.60,157.50) scale(1.045,1)" font-size="16.2">SBCPLTO exp</text>
<line x1="444.2" y1="152.2" x2="481.7" y2="152.2" stroke="#2fa565" stroke-width="2.2"/>
<text transform="translate(485.70,157.50) scale(1.045,1)" font-size="16.2">SBCPLTO calc</text>
<line x1="305" y1="240.3" x2="342" y2="240.3" stroke="#e6ecf4" stroke-width="1.3"/>
<text transform="translate(346.70,245.40) scale(1.045,1)" font-size="16.2">SBCLTO exp</text>
<line x1="454.9" y1="240.3" x2="492.4" y2="240.3" stroke="#1f62c8" stroke-width="2.2"/>
<text transform="translate(496.80,245.40) scale(1.045,1)" font-size="16.2">SBCLTO calc</text>
<line x1="330.3" y1="335.5" x2="366.8" y2="335.5" stroke="#f6e4e4" stroke-width="1.3"/>
<text transform="translate(371.60,340.10) scale(1.045,1)" font-size="16.2">SBLTO exp</text>
<line x1="468.1" y1="335.5" x2="505.1" y2="335.5" stroke="#e63f40" stroke-width="2.2"/>
<text transform="translate(509.80,340.10) scale(1.045,1)" font-size="16.2">SBLTO calc</text>
<line x1="342" y1="425.8" x2="379" y2="425.8" stroke="#f4f4f4" stroke-width="1.3"/>
<text transform="translate(383.70,430.80) scale(1.045,1)" font-size="16.2">SLTO exp</text>
<line x1="477.2" y1="425.8" x2="515.4" y2="425.8" stroke="#3f3f3f" stroke-width="2.2"/>
<text transform="translate(519.60,430.80) scale(1.045,1)" font-size="16.2">SLTO calc</text>
</g>
<g id="panel-b">
<text transform="translate(630.80,117.60)" font-size="31.4" font-weight="bold">(b)</text>
<clipPath id="cb"><rect x="682.55" y="131.4" width="482.1500000000001" height="388.0"/></clipPath>
<g clip-path="url(#cb)">
<path class="calc" d="M683.0 396.8C683.8 396.8 686.3 396.9 688.0 397.0C689.7 397.0 691.3 397.1 693.0 397.2C694.7 397.2 696.3 397.3 698.0 397.4C699.7 397.4 701.3 397.5 703.0 397.5C704.7 397.6 706.3 397.6 708.0 397.7C709.7 397.7 711.3 397.7 713.0 397.7C714.7 397.7 716.3 397.7 718.0 397.6C719.7 397.6 721.3 397.5 723.0 397.4C724.7 397.3 726.3 397.2 728.0 397.0C729.7 396.8 731.3 396.7 733.0 396.4C734.7 396.2 736.3 395.9 738.0 395.6C739.7 395.3 741.3 395.0 743.0 394.6C744.7 394.2 746.3 393.7 748.0 393.2C749.7 392.7 751.3 392.2 753.0 391.6C754.7 391.0 756.3 390.3 758.0 389.6C759.7 388.9 761.3 388.1 763.0 387.3C764.7 386.4 766.3 385.5 768.0 384.6C769.7 383.6 771.3 382.5 773.0 381.4C774.7 380.3 776.3 379.1 778.0 377.8C779.7 376.5 781.3 375.2 783.0 373.8C784.7 372.3 786.3 370.8 788.0 369.3C789.7 367.7 791.3 366.0 793.0 364.3C794.7 362.6 796.3 360.8 798.0 359.0C799.7 357.1 801.3 355.2 803.0 353.2C804.7 351.2 806.3 349.1 808.0 347.0C809.7 344.9 811.3 342.7 813.0 340.4C814.7 338.2 816.3 335.9 818.0 333.5C819.7 331.1 821.3 328.6 823.0 326.1C824.7 323.6 826.3 321.0 828.0 318.4C829.7 315.8 831.3 313.1 833.0 310.4C834.7 307.6 836.3 304.8 838.0 301.9C839.7 299.1 841.3 296.2 843.0 293.2C844.7 290.3 846.3 287.3 848.0 284.3C849.7 281.3 851.3 278.3 853.0 275.2C854.7 272.2 856.3 269.1 858.0 266.0C859.7 263.0 861.3 259.9 863.0 256.8C864.7 253.7 866.3 250.6 868.0 247.5C869.7 244.4 871.3 241.2 873.0 238.1C874.7 235.0 876.3 231.9 878.0 228.8C879.7 225.7 881.3 222.6 883.0 219.6C884.7 216.6 886.3 213.6 888.0 210.8C889.7 207.9 891.3 205.1 893.0 202.3C894.7 199.6 896.3 197.0 898.0 194.5C899.7 192.0 901.3 189.6 903.0 187.4C904.7 185.1 906.3 182.9 908.0 180.9C909.7 178.9 911.3 177.0 913.0 175.2C914.7 173.5 916.3 171.9 918.0 170.4C919.7 168.9 921.3 167.6 923.0 166.4C924.7 165.3 926.3 164.3 928.0 163.4C929.7 162.6 931.3 161.9 933.0 161.4C934.7 160.9 936.3 160.6 938.0 160.5C939.7 160.3 941.3 160.4 943.0 160.6C944.7 160.9 946.3 161.3 948.0 162.0C949.7 162.7 951.3 163.5 953.0 164.6C954.7 165.7 956.3 166.9 958.0 168.5C959.7 170.0 961.3 171.7 963.0 173.7C964.7 175.6 966.3 177.8 968.0 180.2C969.7 182.6 971.3 185.2 973.0 188.0C974.7 190.8 976.3 193.8 978.0 196.9C979.7 200.0 981.3 203.3 983.0 206.8C984.7 210.2 986.3 213.8 988.0 217.5C989.7 221.2 991.3 225.1 993.0 229.0C994.7 233.0 996.3 237.1 998.0 241.2C999.7 245.3 1001.3 249.6 1003.0 253.9C1004.7 258.2 1006.3 262.6 1008.0 267.0C1009.7 271.5 1011.3 276.0 1013.0 280.5C1014.7 285.0 1016.3 289.5 1018.0 294.1C1019.7 298.6 1021.3 303.2 1023.0 307.7C1024.7 312.3 1026.3 316.8 1028.0 321.3C1029.7 325.9 1031.3 330.3 1033.0 334.8C1034.7 339.2 1036.3 343.6 1038.0 347.9C1039.7 352.2 1041.3 356.4 1043.0 360.6C1044.7 364.7 1046.3 368.8 1048.0 372.7C1049.7 376.6 1051.3 380.5 1053.0 384.1C1054.7 387.8 1056.3 391.4 1058.0 394.8C1059.7 398.3 1061.3 401.6 1063.0 404.7C1064.7 407.8 1066.3 410.8 1068.0 413.7C1069.7 416.5 1071.3 419.2 1073.0 421.7C1074.7 424.3 1076.3 426.6 1078.0 428.8C1079.7 431.0 1081.3 433.0 1083.0 434.8C1084.7 436.7 1086.3 438.3 1088.0 439.8C1089.7 441.2 1091.3 442.5 1093.0 443.6C1094.7 444.6 1096.3 445.5 1098.0 446.1C1099.7 446.8 1101.3 447.3 1103.0 447.5C1104.7 447.7 1106.3 447.7 1108.0 447.5C1109.7 447.3 1111.3 446.8 1113.0 446.2C1114.7 445.6 1116.3 444.8 1118.0 443.8C1119.7 442.8 1121.3 441.7 1123.0 440.4C1124.7 439.1 1126.3 437.6 1128.0 436.1C1129.7 434.5 1131.3 432.8 1133.0 431.0C1134.7 429.2 1136.3 427.3 1138.0 425.4C1139.7 423.4 1141.3 421.4 1143.0 419.3C1144.7 417.2 1146.3 415.1 1148.0 412.9C1149.7 410.7 1151.3 408.5 1153.0 406.3C1154.7 404.1 1156.3 401.9 1158.0 399.7C1159.7 397.5 1161.9 394.6 1163.0 393.2C1164.1 391.8 1164.2 391.7 1164.5 391.3" stroke="#444444" stroke-width="2.75"/>
<path class="calc" d="M683.0 422.9C683.8 423.0 686.3 423.3 688.0 423.5C689.7 423.7 691.3 423.8 693.0 423.9C694.7 424.0 696.3 424.1 698.0 424.1C699.7 424.1 701.3 424.1 703.0 424.1C704.7 424.1 706.3 424.0 708.0 423.9C709.7 423.8 711.3 423.6 713.0 423.5C714.7 423.3 716.3 423.1 718.0 422.8C719.7 422.6 721.3 422.3 723.0 422.0C724.7 421.7 726.3 421.3 728.0 420.9C729.7 420.5 731.3 420.1 733.0 419.7C734.7 419.2 736.3 418.7 738.0 418.2C739.7 417.7 741.3 417.1 743.0 416.5C744.7 415.9 746.3 415.3 748.0 414.6C749.7 414.0 751.3 413.3 753.0 412.5C754.7 411.8 756.3 411.0 758.0 410.2C759.7 409.4 761.3 408.6 763.0 407.7C764.7 406.8 766.3 405.9 768.0 405.0C769.7 404.1 771.3 403.1 773.0 402.1C774.7 401.1 776.3 400.0 778.0 399.0C779.7 397.9 781.3 396.8 783.0 395.6C784.7 394.5 786.3 393.3 788.0 392.1C789.7 390.9 791.3 389.6 793.0 388.4C794.7 387.1 796.3 385.8 798.0 384.4C799.7 383.1 801.3 381.7 803.0 380.3C804.7 378.8 806.3 377.4 808.0 375.9C809.7 374.4 811.3 372.9 813.0 371.3C814.7 369.8 816.3 368.2 818.0 366.6C819.7 365.0 821.3 363.3 823.0 361.6C824.7 359.9 826.3 358.2 828.0 356.5C829.7 354.7 831.3 352.9 833.0 351.1C834.7 349.3 836.3 347.4 838.0 345.5C839.7 343.6 841.3 341.7 843.0 339.8C844.7 337.8 846.3 335.8 848.0 333.8C849.7 331.8 851.3 329.8 853.0 327.7C854.7 325.7 856.3 323.6 858.0 321.6C859.7 319.5 861.3 317.5 863.0 315.4C864.7 313.4 866.3 311.3 868.0 309.3C869.7 307.3 871.3 305.3 873.0 303.4C874.7 301.4 876.3 299.4 878.0 297.5C879.7 295.6 881.3 293.8 883.0 291.9C884.7 290.1 886.3 288.3 888.0 286.6C889.7 284.8 891.3 283.1 893.0 281.5C894.7 279.8 896.3 278.2 898.0 276.7C899.7 275.2 901.3 273.7 903.0 272.3C904.7 270.9 906.3 269.6 908.0 268.3C909.7 267.0 911.3 265.8 913.0 264.7C914.7 263.6 916.3 262.6 918.0 261.7C919.7 260.7 921.3 259.9 923.0 259.2C924.7 258.4 926.3 257.8 928.0 257.2C929.7 256.7 931.3 256.2 933.0 255.9C934.7 255.6 936.3 255.3 938.0 255.2C939.7 255.2 941.3 255.2 943.0 255.3C944.7 255.5 946.3 255.8 948.0 256.2C949.7 256.6 951.3 257.1 953.0 257.8C954.7 258.5 956.3 259.3 958.0 260.2C959.7 261.2 961.3 262.2 963.0 263.4C964.7 264.6 966.3 265.9 968.0 267.3C969.7 268.8 971.3 270.3 973.0 272.0C974.7 273.7 976.3 275.4 978.0 277.3C979.7 279.2 981.3 281.2 983.0 283.4C984.7 285.5 986.3 287.7 988.0 290.0C989.7 292.4 991.3 294.8 993.0 297.4C994.7 299.9 996.3 302.6 998.0 305.3C999.7 308.0 1001.3 310.9 1003.0 313.8C1004.7 316.8 1006.3 319.8 1008.0 322.9C1009.7 326.0 1011.3 329.2 1013.0 332.5C1014.7 335.8 1016.3 339.1 1018.0 342.5C1019.7 345.9 1021.3 349.4 1023.0 352.9C1024.7 356.4 1026.3 359.9 1028.0 363.4C1029.7 367.0 1031.3 370.5 1033.0 374.1C1034.7 377.6 1036.3 381.2 1038.0 384.8C1039.7 388.3 1041.3 391.8 1043.0 395.3C1044.7 398.8 1046.3 402.3 1048.0 405.7C1049.7 409.1 1051.3 412.5 1053.0 415.8C1054.7 419.1 1056.3 422.3 1058.0 425.5C1059.7 428.6 1061.3 431.7 1063.0 434.7C1064.7 437.7 1066.3 440.6 1068.0 443.4C1069.7 446.2 1071.3 448.9 1073.0 451.6C1074.7 454.2 1076.3 456.7 1078.0 459.2C1079.7 461.6 1081.3 463.9 1083.0 466.2C1084.7 468.4 1086.3 470.5 1088.0 472.5C1089.7 474.5 1091.3 476.4 1093.0 478.1C1094.7 479.9 1096.3 481.5 1098.0 483.0C1099.7 484.5 1101.3 485.9 1103.0 487.2C1104.7 488.4 1106.3 489.5 1108.0 490.5C1109.7 491.5 1111.3 492.3 1113.0 493.0C1114.7 493.7 1116.3 494.2 1118.0 494.6C1119.7 495.0 1121.3 495.2 1123.0 495.3C1124.7 495.4 1126.3 495.4 1128.0 495.2C1129.7 495.1 1131.3 494.8 1133.0 494.4C1134.7 494.0 1136.3 493.4 1138.0 492.8C1139.7 492.2 1141.3 491.4 1143.0 490.6C1144.7 489.8 1146.3 488.8 1148.0 487.8C1149.7 486.7 1151.3 485.6 1153.0 484.4C1154.7 483.2 1156.3 481.9 1158.0 480.5C1159.7 479.1 1161.9 477.1 1163.0 476.2C1164.1 475.2 1164.2 475.0 1164.5 474.8" stroke="#e63f40" stroke-width="2.75"/>
<path class="calc" d="M683.0 397.8C683.8 397.1 686.3 395.1 688.0 393.8C689.7 392.5 691.3 391.3 693.0 390.1C694.7 388.9 696.3 387.8 698.0 386.6C699.7 385.5 701.3 384.4 703.0 383.4C704.7 382.4 706.3 381.4 708.0 380.4C709.7 379.4 711.3 378.5 713.0 377.6C714.7 376.6 716.3 375.8 718.0 374.9C719.7 374.0 721.3 373.2 723.0 372.4C724.7 371.6 726.3 370.8 728.0 370.0C729.7 369.3 731.3 368.5 733.0 367.8C734.7 367.0 736.3 366.3 738.0 365.6C739.7 364.9 741.3 364.2 743.0 363.5C744.7 362.8 746.3 362.2 748.0 361.5C749.7 360.8 751.3 360.2 753.0 359.5C754.7 358.8 756.3 358.2 758.0 357.5C759.7 356.9 761.3 356.2 763.0 355.5C764.7 354.9 766.3 354.2 768.0 353.5C769.7 352.8 771.3 352.2 773.0 351.5C774.7 350.8 776.3 350.1 778.0 349.4C779.7 348.6 781.3 347.9 783.0 347.1C784.7 346.4 786.3 345.6 788.0 344.8C789.7 344.0 791.3 343.2 793.0 342.3C794.7 341.4 796.3 340.5 798.0 339.5C799.7 338.5 801.3 337.4 803.0 336.3C804.7 335.1 806.3 333.9 808.0 332.5C809.7 331.1 811.3 329.7 813.0 328.1C814.7 326.5 816.3 324.9 818.0 323.0C819.7 321.2 821.3 319.2 823.0 317.1C824.7 315.0 826.3 312.7 828.0 310.3C829.7 307.9 831.3 305.4 833.0 302.7C834.7 300.1 836.3 297.4 838.0 294.5C839.7 291.7 841.3 288.7 843.0 285.7C844.7 282.7 846.3 279.6 848.0 276.5C849.7 273.3 851.3 270.1 853.0 266.9C854.7 263.6 856.3 260.3 858.0 256.9C859.7 253.6 861.3 250.2 863.0 246.8C864.7 243.3 866.3 239.9 868.0 236.4C869.7 232.9 871.3 229.4 873.0 226.0C874.7 222.5 876.3 218.9 878.0 215.4C879.7 212.0 881.3 208.4 883.0 205.0C884.7 201.5 886.3 198.1 888.0 194.8C889.7 191.5 891.3 188.2 893.0 185.1C894.7 182.0 896.3 179.0 898.0 176.2C899.7 173.4 901.3 170.8 903.0 168.4C904.7 166.0 906.3 163.8 908.0 161.8C909.7 159.9 911.3 158.2 913.0 156.6C914.7 155.1 916.3 153.8 918.0 152.7C919.7 151.6 921.3 150.8 923.0 150.1C924.7 149.5 926.3 149.1 928.0 148.9C929.7 148.6 931.3 148.7 933.0 148.9C934.7 149.1 936.3 149.5 938.0 150.2C939.7 150.8 941.3 151.7 943.0 152.8C944.7 153.9 946.3 155.1 948.0 156.7C949.7 158.2 951.3 159.9 953.0 161.8C954.7 163.7 956.3 165.9 958.0 168.2C959.7 170.6 961.3 173.2 963.0 175.9C964.7 178.7 966.3 181.6 968.0 184.8C969.7 187.9 971.3 191.2 973.0 194.7C974.7 198.1 976.3 201.7 978.0 205.5C979.7 209.2 981.3 213.1 983.0 217.0C984.7 221.0 986.3 225.1 988.0 229.2C989.7 233.4 991.3 237.7 993.0 242.0C994.7 246.3 996.3 250.6 998.0 255.1C999.7 259.5 1001.3 263.9 1003.0 268.4C1004.7 272.9 1006.3 277.4 1008.0 281.9C1009.7 286.4 1011.3 290.9 1013.0 295.3C1014.7 299.8 1016.3 304.3 1018.0 308.7C1019.7 313.2 1021.3 317.6 1023.0 322.0C1024.7 326.3 1026.3 330.7 1028.0 334.9C1029.7 339.2 1031.3 343.4 1033.0 347.5C1034.7 351.6 1036.3 355.7 1038.0 359.7C1039.7 363.7 1041.3 367.5 1043.0 371.3C1044.7 375.1 1046.3 378.8 1048.0 382.3C1049.7 385.9 1051.3 389.4 1053.0 392.7C1054.7 396.0 1056.3 399.2 1058.0 402.4C1059.7 405.5 1061.3 408.4 1063.0 411.3C1064.7 414.2 1066.3 417.0 1068.0 419.6C1069.7 422.2 1071.3 424.8 1073.0 427.2C1074.7 429.6 1076.3 431.9 1078.0 434.0C1079.7 436.2 1081.3 438.3 1083.0 440.2C1084.7 442.2 1086.3 444.0 1088.0 445.7C1089.7 447.4 1091.3 449.0 1093.0 450.4C1094.7 451.9 1096.3 453.2 1098.0 454.5C1099.7 455.7 1101.3 456.8 1103.0 457.8C1104.7 458.7 1106.3 459.6 1108.0 460.3C1109.7 461.1 1111.3 461.7 1113.0 462.2C1114.7 462.7 1116.3 463.1 1118.0 463.3C1119.7 463.6 1121.3 463.7 1123.0 463.7C1124.7 463.7 1126.3 463.6 1128.0 463.4C1129.7 463.1 1131.3 462.7 1133.0 462.3C1134.7 461.8 1136.3 461.2 1138.0 460.4C1139.7 459.7 1141.3 458.8 1143.0 457.8C1144.7 456.8 1146.3 455.7 1148.0 454.5C1149.7 453.2 1151.3 451.8 1153.0 450.3C1154.7 448.8 1156.3 447.2 1158.0 445.5C1159.7 443.7 1161.9 441.1 1163.0 439.8C1164.1 438.6 1164.2 438.3 1164.5 438.0" stroke="#1f62c8" stroke-width="2.75"/>
<path class="calc" d="M683.0 385.6C683.8 385.3 686.3 384.4 688.0 383.7C689.7 383.1 691.3 382.4 693.0 381.8C694.7 381.2 696.3 380.5 698.0 379.9C699.7 379.3 701.3 378.7 703.0 378.1C704.7 377.5 706.3 376.9 708.0 376.3C709.7 375.8 711.3 375.2 713.0 374.7C714.7 374.2 716.3 373.7 718.0 373.3C719.7 372.8 721.3 372.4 723.0 372.0C724.7 371.6 726.3 371.3 728.0 371.0C729.7 370.7 731.3 370.4 733.0 370.2C734.7 370.0 736.3 369.8 738.0 369.7C739.7 369.6 741.3 369.6 743.0 369.5C744.7 369.5 746.3 369.5 748.0 369.6C749.7 369.6 751.3 369.7 753.0 369.7C754.7 369.8 756.3 369.8 758.0 369.9C759.7 370.0 761.3 370.0 763.0 370.1C764.7 370.1 766.3 370.1 768.0 370.1C769.7 370.1 771.3 370.1 773.0 370.0C774.7 369.9 776.3 369.8 778.0 369.6C779.7 369.4 781.3 369.2 783.0 368.8C784.7 368.5 786.3 368.1 788.0 367.7C789.7 367.2 791.3 366.7 793.0 366.1C794.7 365.5 796.3 364.8 798.0 364.1C799.7 363.3 801.3 362.5 803.0 361.6C804.7 360.7 806.3 359.8 808.0 358.7C809.7 357.7 811.3 356.6 813.0 355.4C814.7 354.2 816.3 352.9 818.0 351.6C819.7 350.3 821.3 348.9 823.0 347.4C824.7 345.9 826.3 344.4 828.0 342.7C829.7 341.1 831.3 339.4 833.0 337.6C834.7 335.8 836.3 334.0 838.0 332.1C839.7 330.1 841.3 328.1 843.0 326.1C844.7 324.0 846.3 321.8 848.0 319.6C849.7 317.4 851.3 315.1 853.0 312.7C854.7 310.4 856.3 307.9 858.0 305.5C859.7 303.1 861.3 300.6 863.0 298.1C864.7 295.7 866.3 293.1 868.0 290.7C869.7 288.2 871.3 285.7 873.0 283.2C874.7 280.7 876.3 278.3 878.0 275.9C879.7 273.5 881.3 271.1 883.0 268.8C884.7 266.5 886.3 264.3 888.0 262.1C889.7 260.0 891.3 257.9 893.0 255.9C894.7 253.9 896.3 252.0 898.0 250.3C899.7 248.5 901.3 246.8 903.0 245.3C904.7 243.8 906.3 242.4 908.0 241.2C909.7 240.0 911.3 238.9 913.0 238.0C914.7 237.1 916.3 236.3 918.0 235.8C919.7 235.2 921.3 234.7 923.0 234.5C924.7 234.2 926.3 234.0 928.0 234.1C929.7 234.1 931.3 234.2 933.0 234.5C934.7 234.8 936.3 235.2 938.0 235.8C939.7 236.3 941.3 237.0 943.0 237.8C944.7 238.6 946.3 239.6 948.0 240.6C949.7 241.7 951.3 242.8 953.0 244.1C954.7 245.4 956.3 246.8 958.0 248.3C959.7 249.7 961.3 251.3 963.0 253.0C964.7 254.7 966.3 256.5 968.0 258.4C969.7 260.2 971.3 262.2 973.0 264.3C974.7 266.3 976.3 268.4 978.0 270.6C979.7 272.9 981.3 275.1 983.0 277.5C984.7 279.8 986.3 282.3 988.0 284.7C989.7 287.2 991.3 289.8 993.0 292.4C994.7 295.0 996.3 297.6 998.0 300.3C999.7 303.0 1001.3 305.8 1003.0 308.6C1004.7 311.4 1006.3 314.2 1008.0 317.1C1009.7 320.0 1011.3 322.9 1013.0 325.8C1014.7 328.7 1016.3 331.7 1018.0 334.7C1019.7 337.7 1021.3 340.7 1023.0 343.7C1024.7 346.7 1026.3 349.7 1028.0 352.7C1029.7 355.8 1031.3 358.8 1033.0 361.7C1034.7 364.7 1036.3 367.7 1038.0 370.6C1039.7 373.5 1041.3 376.4 1043.0 379.3C1044.7 382.1 1046.3 384.9 1048.0 387.6C1049.7 390.4 1051.3 393.0 1053.0 395.6C1054.7 398.2 1056.3 400.7 1058.0 403.1C1059.7 405.5 1061.3 407.8 1063.0 410.0C1064.7 412.3 1066.3 414.4 1068.0 416.4C1069.7 418.4 1071.3 420.3 1073.0 422.1C1074.7 423.9 1076.3 425.5 1078.0 427.1C1079.7 428.7 1081.3 430.1 1083.0 431.5C1084.7 432.8 1086.3 434.0 1088.0 435.1C1089.7 436.2 1091.3 437.1 1093.0 438.0C1094.7 438.8 1096.3 439.5 1098.0 440.1C1099.7 440.7 1101.3 441.1 1103.0 441.4C1104.7 441.7 1106.3 441.9 1108.0 441.9C1109.7 441.9 1111.3 441.8 1113.0 441.5C1114.7 441.3 1116.3 440.8 1118.0 440.3C1119.7 439.7 1121.3 439.0 1123.0 438.2C1124.7 437.4 1126.3 436.5 1128.0 435.4C1129.7 434.4 1131.3 433.2 1133.0 432.0C1134.7 430.8 1136.3 429.5 1138.0 428.1C1139.7 426.7 1141.3 425.2 1143.0 423.7C1144.7 422.2 1146.3 420.7 1148.0 419.1C1149.7 417.5 1151.3 415.8 1153.0 414.2C1154.7 412.5 1156.3 410.8 1158.0 409.2C1159.7 407.5 1161.9 405.2 1163.0 404.1C1164.1 403.1 1164.2 402.9 1164.5 402.7" stroke="#2fa565" stroke-width="2.75"/>
</g>
<rect x="681.05" y="130.00" width="3.00" height="390.80" fill="#000"/>
<rect x="1163.40" y="130.00" width="2.60" height="390.80" fill="#000"/>
<rect x="681.05" y="130.00" width="484.95" height="2.80" fill="#000"/>
<rect x="681.05" y="518.00" width="484.95" height="2.80" fill="#000"/>
<line class="tk" x1="682.55" y1="209" x2="689.75" y2="209" stroke-width="2.6"/>
<line class="tk" x1="682.55" y1="306" x2="685.9499999999999" y2="306" stroke-width="2.6"/>
<line class="tk" x1="682.55" y1="403.3" x2="689.75" y2="403.3" stroke-width="2.6"/>
<line class="tk" x1="682.55" y1="500.6" x2="685.9499999999999" y2="500.6" stroke-width="2.6"/>
<line class="tk" x1="712.6" y1="519.4" x2="712.6" y2="512.1999999999999" stroke-width="2.6"/>
<text transform="translate(713.40,543.10)" font-size="18.7" text-anchor="middle">1.6</text>
<line class="tk" x1="742.7" y1="519.4" x2="742.7" y2="516.0" stroke-width="2.6"/>
<line class="tk" x1="772.8" y1="519.4" x2="772.8" y2="512.1999999999999" stroke-width="2.6"/>
<text transform="translate(773.62,543.10)" font-size="18.7" text-anchor="middle">1.7</text>
<line class="tk" x1="802.9" y1="519.4" x2="802.9" y2="516.0" stroke-width="2.6"/>
<line class="tk" x1="833.0" y1="519.4" x2="833.0" y2="512.1999999999999" stroke-width="2.6"/>
<text transform="translate(833.84,543.10)" font-size="18.7" text-anchor="middle">1.8</text>
<line class="tk" x1="863.2" y1="519.4" x2="863.2" y2="516.0" stroke-width="2.6"/>
<line class="tk" x1="893.3" y1="519.4" x2="893.3" y2="512.1999999999999" stroke-width="2.6"/>
<text transform="translate(894.06,543.10)" font-size="18.7" text-anchor="middle">1.9</text>
<line class="tk" x1="923.4" y1="519.4" x2="923.4" y2="516.0" stroke-width="2.6"/>
<line class="tk" x1="953.5" y1="519.4" x2="953.5" y2="512.1999999999999" stroke-width="2.6"/>
<text transform="translate(954.28,543.10)" font-size="18.7" text-anchor="middle">2.0</text>
<line class="tk" x1="983.6" y1="519.4" x2="983.6" y2="516.0" stroke-width="2.6"/>
<line class="tk" x1="1013.7" y1="519.4" x2="1013.7" y2="512.1999999999999" stroke-width="2.6"/>
<text transform="translate(1014.50,543.10)" font-size="18.7" text-anchor="middle">2.1</text>
<line class="tk" x1="1043.8" y1="519.4" x2="1043.8" y2="516.0" stroke-width="2.6"/>
<line class="tk" x1="1073.9" y1="519.4" x2="1073.9" y2="512.1999999999999" stroke-width="2.6"/>
<text transform="translate(1074.72,543.10)" font-size="18.7" text-anchor="middle">2.2</text>
<line class="tk" x1="1104.0" y1="519.4" x2="1104.0" y2="516.0" stroke-width="2.6"/>
<line class="tk" x1="1134.1" y1="519.4" x2="1134.1" y2="512.1999999999999" stroke-width="2.6"/>
<text transform="translate(1134.94,543.10)" font-size="18.7" text-anchor="middle">2.3</text>
<text transform="translate(923.30,580.50) scale(1.035,1)" font-size="25.4" text-anchor="middle"><tspan font-style="italic">r</tspan> (Å)</text>
<text transform="translate(664.50,325.30) rotate(-90) scale(1.012,1)" font-size="25.2" text-anchor="middle">G(<tspan font-style="italic">r</tspan>) (Å<tspan font-size="15.5" dy="-11.5">−2</tspan><tspan dy="11.5">)</tspan></text>
<line x1="700.2" y1="150.5" x2="745.8" y2="150.5" stroke="#444444" stroke-width="2.9" stroke-linecap="round"/>
<text transform="translate(750.80,157.00) scale(1.03,1)" font-size="20">SLTO</text>
<line x1="700.2" y1="175.5" x2="745.8" y2="175.5" stroke="#e63f40" stroke-width="2.9" stroke-linecap="round"/>
<text transform="translate(750.80,182.00) scale(1.03,1)" font-size="20">SBLTO</text>
<line x1="700.2" y1="200.5" x2="745.8" y2="200.5" stroke="#1f62c8" stroke-width="2.9" stroke-linecap="round"/>
<text transform="translate(750.80,207.00) scale(1.03,1)" font-size="20">SBCLTO</text>
<line x1="700.2" y1="225.2" x2="745.8" y2="225.2" stroke="#2fa565" stroke-width="2.9" stroke-linecap="round"/>
<text transform="translate(750.80,231.70) scale(1.03,1)" font-size="20">SBCPLTO</text>
<line x1="790.7" y1="438.1" x2="746" y2="430.3" stroke="#e83f3f" stroke-width="2.6"/>
<polygon points="732.7,428 748.6,426.3 747,435.6" fill="#e83f3f"/>
<line x1="1051.5" y1="512.6" x2="1093" y2="506" stroke="#e83f3f" stroke-width="2.6"/>
<polygon points="1107.4,503.7 1091.2,502.4 1092.8,510.7" fill="#e83f3f"/>
</g>
</svg></body></html>
